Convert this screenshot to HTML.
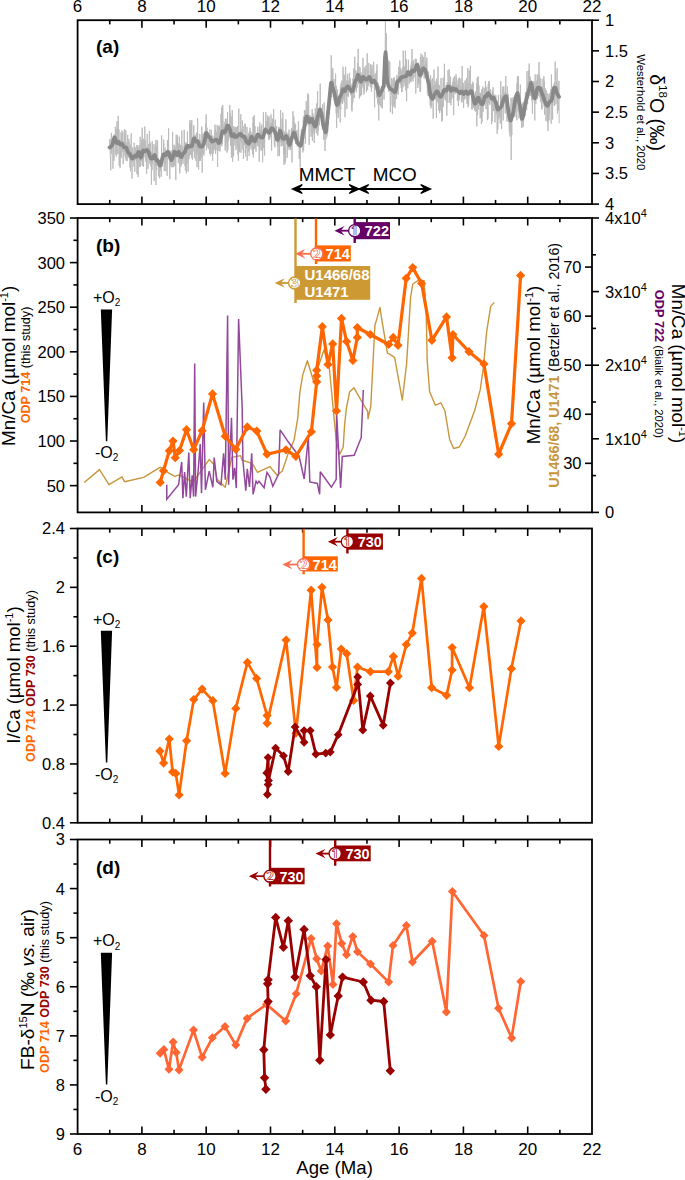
<!DOCTYPE html>
<html><head><meta charset="utf-8"><style>html,body{margin:0;padding:0;background:#fff;}svg{display:block;}</style></head>
<body><svg width="685" height="1180" viewBox="0 0 685 1180" font-family="&quot;Liberation Sans&quot;, sans-serif">
<rect width="685" height="1180" fill="#fff"/>
<polyline points="109.6,145.0 109.8,139.1 110.0,139.1 110.2,153.5 110.4,157.8 110.6,166.1 110.8,170.3 111.0,139.7 111.2,149.2 111.4,132.9 111.6,153.6 111.8,149.7 112.0,139.8 112.2,143.8 112.4,142.6 112.6,138.2 112.8,157.1 113.0,168.7 113.2,150.4 113.4,151.9 113.6,142.0 113.8,136.1 114.0,160.8 114.2,134.6 114.4,141.9 114.6,135.8 114.8,143.8 115.0,137.7 115.2,144.6 115.4,126.7 115.6,139.2 115.8,154.7 116.0,131.4 116.2,129.5 116.4,156.7 116.6,147.4 116.8,154.2 117.0,121.2 117.2,144.9 117.4,130.4 117.6,129.0 117.8,146.7 118.0,154.2 118.2,115.8 118.4,120.4 118.6,136.4 118.8,140.4 119.0,129.6 119.2,166.0 119.4,149.8 119.6,140.7 119.8,139.5 120.0,168.2 120.2,167.5 120.4,140.1 120.6,148.3 120.8,157.3 121.0,132.6 121.2,138.4 121.4,157.6 121.6,137.1 121.8,139.7 122.0,130.6 122.2,136.7 122.4,151.5 122.6,136.7 122.8,132.3 123.0,139.5 123.2,164.1 123.4,148.5 123.6,141.4 123.8,150.6 124.0,152.0 124.2,148.8 124.4,129.4 124.6,150.5 124.8,145.4 125.0,156.0 125.2,133.9 125.4,158.0 125.6,142.4 125.8,130.2 126.0,160.8 126.2,142.4 126.4,151.7 126.6,145.1 126.8,159.8 127.0,160.5 127.2,161.2 127.4,157.8 127.6,135.0 127.8,134.8 128.0,156.3 128.2,143.0 128.4,157.6 128.6,154.8 128.8,139.0 129.0,142.9 129.2,142.0 129.4,144.5 129.6,151.5 129.8,160.7 130.0,167.6 130.2,144.7 130.4,149.3 130.6,171.3 130.8,165.1 131.0,158.9 131.2,133.3 131.4,147.3 131.6,159.4 131.8,152.2 132.0,178.5 132.2,159.5 132.4,161.5 132.6,147.4 132.8,147.8 133.0,151.4 133.2,151.5 133.4,155.1 133.6,161.0 133.8,159.3 134.0,166.7 134.2,142.7 134.4,158.3 134.6,158.3 134.8,171.8 135.0,153.4 135.2,158.8 135.4,147.3 135.6,159.9 135.8,159.8 136.0,149.6 136.2,151.8 136.4,156.1 136.6,162.4 136.8,144.9 137.0,174.0 137.2,152.2 137.4,174.1 137.6,169.0 137.8,145.2 138.0,146.4 138.2,177.1 138.4,158.2 138.6,163.1 138.8,147.5 139.0,150.7 139.2,160.6 139.4,159.3 139.6,145.4 139.8,167.1 140.0,161.6 140.2,136.8 140.4,166.7 140.6,155.4 140.8,165.3 141.0,151.8 141.2,160.8 141.4,140.2 141.6,159.7 141.8,139.8 142.0,155.9 142.2,127.7 142.4,151.7 142.6,166.1 142.8,155.8 143.0,162.6 143.2,139.6 143.4,166.3 143.6,166.9 143.8,138.7 144.0,143.0 144.2,145.4 144.4,151.1 144.6,153.3 144.8,126.5 145.0,157.3 145.2,148.6 145.4,140.7 145.6,160.4 145.8,147.2 146.0,161.9 146.2,155.7 146.4,146.9 146.6,173.7 146.8,158.2 147.0,145.0 147.2,133.9 147.4,144.8 147.6,156.7 147.8,148.4 148.0,168.9 148.2,154.1 148.4,153.8 148.6,156.4 148.8,144.0 149.0,152.2 149.2,147.4 149.4,131.0 149.6,137.5 149.8,163.5 150.0,152.2 150.2,156.0 150.4,142.8 150.6,152.1 150.8,166.2 151.0,159.4 151.2,153.3 151.4,184.7 151.6,158.0 151.8,151.5 152.0,170.2 152.2,141.1 152.4,164.1 152.6,147.2 152.8,150.3 153.0,144.1 153.2,158.8 153.4,158.1 153.6,159.5 153.8,158.0 154.0,169.5 154.2,181.1 154.4,161.9 154.6,162.4 154.8,151.2 155.0,144.4 155.2,162.0 155.4,157.1 155.6,166.2 155.8,139.9 156.0,185.0 156.2,146.7 156.4,160.3 156.6,170.2 156.8,146.6 157.0,155.1 157.2,140.2 157.4,146.0 157.6,140.9 157.8,161.6 158.0,163.8 158.2,158.0 158.4,174.5 158.6,176.3 158.8,162.9 159.0,161.4 159.2,161.5 159.4,160.2 159.6,178.3 159.8,167.8 160.0,162.1 160.2,163.1 160.4,170.7 160.6,160.8 160.8,167.5 161.0,163.4 161.2,176.7 161.4,174.0 161.6,135.4 161.8,159.0 162.0,166.9 162.2,154.3 162.4,166.1 162.6,160.5 162.8,162.4 163.0,155.1 163.2,158.2 163.4,160.0 163.6,139.6 163.8,144.9 164.0,143.9 164.2,171.1 164.4,157.4 164.6,158.3 164.8,156.5 165.0,149.8 165.2,147.7 165.4,163.8 165.6,151.5 165.8,171.1 166.0,156.9 166.2,155.6 166.4,152.1 166.6,153.1 166.8,153.7 167.0,168.1 167.2,175.8 167.4,140.1 167.6,154.2 167.8,158.8 168.0,142.7 168.2,145.5 168.4,147.4 168.6,128.2 168.8,159.3 169.0,152.8 169.2,153.0 169.4,155.4 169.6,157.8 169.8,179.2 170.0,158.4 170.2,165.5 170.4,152.4 170.6,161.7 170.8,155.4 171.0,157.5 171.2,150.5 171.4,151.9 171.6,164.8 171.8,167.3 172.0,164.0 172.2,152.3 172.4,161.7 172.6,131.9 172.8,167.0 173.0,156.5 173.2,158.9 173.4,167.2 173.6,150.6 173.8,163.7 174.0,144.7 174.2,158.1 174.4,147.9 174.6,154.4 174.8,166.3 175.0,145.6 175.2,146.5 175.4,149.9 175.6,156.8 175.8,180.1 176.0,149.0 176.2,134.7 176.4,148.9 176.6,139.6 176.8,149.8 177.0,155.3 177.2,145.2 177.4,147.5 177.6,135.0 177.8,157.1 178.0,145.2 178.2,163.2 178.4,162.6 178.6,143.3 178.8,148.4 179.0,153.0 179.2,160.5 179.4,136.7 179.6,153.3 179.8,173.4 180.0,154.4 180.2,158.1 180.4,156.4 180.6,144.8 180.8,166.6 181.0,160.0 181.2,159.0 181.4,164.7 181.6,165.2 181.8,130.6 182.0,161.2 182.2,150.0 182.4,156.9 182.6,147.7 182.8,145.8 183.0,163.8 183.2,154.0 183.4,151.1 183.6,150.9 183.8,154.5 184.0,153.4 184.2,129.7 184.4,144.4 184.6,150.5 184.8,160.0 185.0,165.8 185.2,142.3 185.4,170.5 185.6,151.3 185.8,154.6 186.0,143.8 186.2,142.5 186.4,173.4 186.6,145.4 186.8,146.1 187.0,158.5 187.2,163.9 187.4,131.5 187.6,144.6 187.8,146.5 188.0,164.9 188.2,171.7 188.4,146.7 188.6,151.2 188.8,156.3 189.0,159.2 189.2,144.5 189.4,156.2 189.6,140.4 189.8,120.4 190.0,133.3 190.2,149.1 190.4,154.8 190.6,124.3 190.8,129.0 191.0,146.9 191.2,120.3 191.4,153.0 191.6,157.8 191.8,120.1 192.0,154.6 192.2,143.6 192.4,159.8 192.6,147.6 192.8,141.4 193.0,144.0 193.2,151.3 193.4,142.9 193.6,140.7 193.8,125.3 194.0,144.2 194.2,139.8 194.4,158.2 194.6,140.1 194.8,139.9 195.0,135.0 195.2,149.1 195.4,140.2 195.6,135.6 195.8,159.0 196.0,160.9 196.2,138.5 196.4,132.7 196.6,154.2 196.8,134.3 197.0,167.2 197.2,141.2 197.4,152.3 197.6,118.2 197.8,142.7 198.0,154.4 198.2,148.3 198.4,139.0 198.6,169.5 198.8,153.0 199.0,143.9 199.2,140.6 199.4,143.2 199.6,161.1 199.8,133.9 200.0,148.4 200.2,140.0 200.4,160.9 200.6,146.6 200.8,156.9 201.0,153.9 201.2,142.3 201.4,155.1 201.6,157.5 201.8,126.6 202.0,155.3 202.2,172.8 202.4,144.9 202.6,153.9 202.8,133.7 203.0,151.4 203.2,140.5 203.4,153.8 203.6,145.1 203.8,133.3 204.0,155.6 204.2,141.7 204.4,132.8 204.6,142.8 204.8,131.5 205.0,144.2 205.2,138.5 205.4,134.3 205.6,143.8 205.8,123.2 206.0,145.0 206.2,114.3 206.4,150.4 206.6,136.3 206.8,132.1 207.0,127.7 207.2,141.1 207.4,134.5 207.6,134.8 207.8,147.5 208.0,133.2 208.2,135.5 208.4,148.4 208.6,149.2 208.8,136.9 209.0,140.1 209.2,139.0 209.4,146.1 209.6,153.7 209.8,129.4 210.0,137.8 210.2,139.0 210.4,145.9 210.6,155.6 210.8,140.8 211.0,143.7 211.2,153.5 211.4,129.9 211.6,135.0 211.8,138.5 212.0,143.1 212.2,145.4 212.4,137.8 212.6,160.6 212.8,135.6 213.0,140.6 213.2,153.6 213.4,150.3 213.6,142.3 213.8,146.1 214.0,150.5 214.2,141.9 214.4,148.5 214.6,132.4 214.8,142.2 215.0,124.7 215.2,132.2 215.4,129.5 215.6,153.7 215.8,136.3 216.0,144.1 216.2,131.7 216.4,139.2 216.6,138.5 216.8,132.8 217.0,150.3 217.2,124.9 217.4,148.4 217.6,167.0 217.8,134.3 218.0,143.4 218.2,127.7 218.4,143.7 218.6,126.6 218.8,150.7 219.0,139.3 219.2,125.5 219.4,130.9 219.6,127.7 219.8,140.5 220.0,151.5 220.2,138.1 220.4,129.4 220.6,132.0 220.8,140.7 221.0,113.7 221.2,143.4 221.4,140.5 221.6,108.5 221.8,146.3 222.0,106.6 222.2,130.3 222.4,144.0 222.6,115.0 222.8,105.0 223.0,120.2 223.2,120.8 223.4,129.8 223.6,127.1 223.8,127.7 224.0,128.0 224.2,131.1 224.4,124.2 224.6,136.1 224.8,132.5 225.0,121.9 225.2,150.5 225.4,118.6 225.6,146.6 225.8,123.1 226.0,133.9 226.2,135.0 226.4,137.8 226.6,142.8 226.8,119.1 227.0,152.6 227.2,130.7 227.4,117.9 227.6,112.2 227.8,150.0 228.0,143.1 228.2,126.5 228.4,134.8 228.6,141.0 228.8,130.7 229.0,124.1 229.2,128.4 229.4,137.6 229.6,130.4 229.8,105.0 230.0,138.0 230.2,113.6 230.4,124.4 230.6,145.6 230.8,136.2 231.0,136.9 231.2,136.3 231.4,157.7 231.6,135.7 231.8,116.6 232.0,139.2 232.2,110.0 232.4,115.6 232.6,161.6 232.8,146.6 233.0,126.9 233.2,134.6 233.4,136.0 233.6,156.2 233.8,127.1 234.0,126.2 234.2,129.2 234.4,137.5 234.6,139.4 234.8,133.3 235.0,145.5 235.2,127.2 235.4,136.9 235.6,130.5 235.8,127.3 236.0,150.1 236.2,134.2 236.4,127.2 236.6,137.8 236.8,127.1 237.0,143.3 237.2,145.8 237.4,147.5 237.6,125.9 237.8,135.0 238.0,155.0 238.2,133.5 238.4,160.9 238.6,151.2 238.8,108.7 239.0,147.6 239.2,142.8 239.4,144.0 239.6,152.2 239.8,139.5 240.0,135.5 240.2,140.9 240.4,131.2 240.6,139.8 240.8,114.2 241.0,152.7 241.2,129.8 241.4,141.1 241.6,143.1 241.8,137.4 242.0,137.8 242.2,137.6 242.4,120.3 242.6,131.6 242.8,149.5 243.0,126.8 243.2,126.4 243.4,158.7 243.6,149.4 243.8,153.0 244.0,136.9 244.2,139.8 244.4,145.1 244.6,143.3 244.8,137.1 245.0,123.6 245.2,131.6 245.4,124.4 245.6,156.5 245.8,136.9 246.0,139.7 246.2,148.4 246.4,142.5 246.6,147.8 246.8,136.1 247.0,127.0 247.2,160.6 247.4,135.6 247.6,138.2 247.8,135.2 248.0,137.9 248.2,143.9 248.4,151.5 248.6,133.3 248.8,147.1 249.0,137.2 249.2,156.1 249.4,131.0 249.6,144.0 249.8,149.6 250.0,127.8 250.2,141.9 250.4,141.4 250.6,130.9 250.8,136.1 251.0,147.8 251.2,139.7 251.4,132.8 251.6,134.8 251.8,141.5 252.0,150.1 252.2,145.6 252.4,145.4 252.6,154.3 252.8,123.4 253.0,125.0 253.2,117.0 253.4,157.5 253.6,117.6 253.8,140.6 254.0,148.9 254.2,115.2 254.4,134.8 254.6,138.9 254.8,148.8 255.0,126.0 255.2,144.3 255.4,147.7 255.6,141.7 255.8,141.3 256.0,151.7 256.2,140.7 256.4,137.6 256.6,133.8 256.8,143.1 257.0,133.0 257.2,142.0 257.4,136.0 257.6,146.1 257.8,126.6 258.0,135.3 258.2,138.1 258.4,138.9 258.6,146.4 258.8,139.2 259.0,144.6 259.2,161.8 259.4,144.6 259.6,125.7 259.8,122.2 260.0,143.5 260.2,129.4 260.4,140.0 260.6,133.7 260.8,150.4 261.0,149.4 261.2,126.1 261.4,140.2 261.6,134.5 261.8,124.5 262.0,150.6 262.2,136.2 262.4,142.0 262.6,162.3 262.8,150.6 263.0,148.0 263.2,132.4 263.4,112.3 263.6,147.8 263.8,131.6 264.0,134.3 264.2,129.2 264.4,133.2 264.6,155.5 264.8,127.5 265.0,127.3 265.2,131.8 265.4,132.4 265.6,117.6 265.8,112.0 266.0,124.2 266.2,128.3 266.4,122.9 266.6,121.1 266.8,121.9 267.0,127.5 267.2,130.3 267.4,115.2 267.6,126.1 267.8,135.1 268.0,130.4 268.2,118.1 268.4,128.3 268.6,131.8 268.8,139.9 269.0,116.2 269.2,139.4 269.4,127.9 269.6,136.2 269.8,138.9 270.0,123.0 270.2,123.0 270.4,129.3 270.6,137.0 270.8,123.7 271.0,114.5 271.2,121.3 271.4,131.8 271.6,150.7 271.8,122.8 272.0,124.7 272.2,126.2 272.4,126.7 272.6,118.7 272.8,123.8 273.0,130.5 273.2,129.8 273.4,129.4 273.6,109.1 273.8,118.6 274.0,123.2 274.2,141.2 274.4,145.5 274.6,134.7 274.8,147.4 275.0,128.9 275.2,129.3 275.4,119.7 275.6,135.4 275.8,129.3 276.0,135.6 276.2,140.4 276.4,134.1 276.6,126.3 276.8,137.9 277.0,138.3 277.2,139.8 277.4,146.5 277.6,137.6 277.8,136.9 278.0,156.3 278.2,149.0 278.4,136.6 278.6,127.2 278.8,131.0 279.0,138.0 279.2,141.5 279.4,156.0 279.6,129.0 279.8,132.3 280.0,127.0 280.2,131.3 280.4,127.0 280.6,110.0 280.8,142.2 281.0,134.2 281.2,146.6 281.4,129.9 281.6,138.4 281.8,143.1 282.0,118.6 282.2,124.7 282.4,145.6 282.6,139.4 282.8,112.6 283.0,124.1 283.2,128.4 283.4,134.1 283.6,154.2 283.8,133.3 284.0,164.9 284.2,136.4 284.4,131.5 284.6,154.0 284.8,147.6 285.0,163.7 285.2,156.6 285.4,147.5 285.6,161.0 285.8,119.4 286.0,128.1 286.2,140.6 286.4,138.4 286.6,143.7 286.8,132.2 287.0,148.4 287.2,157.8 287.4,150.4 287.6,147.4 287.8,144.8 288.0,149.7 288.2,143.5 288.4,132.8 288.6,145.1 288.8,145.1 289.0,129.6 289.2,147.5 289.4,145.7 289.6,147.5 289.8,139.7 290.0,149.4 290.2,150.1 290.4,136.2 290.6,145.6 290.8,149.3 291.0,148.2 291.2,131.0 291.4,129.4 291.6,139.1 291.8,127.9 292.0,162.4 292.2,129.0 292.4,128.5 292.6,142.1 292.8,130.4 293.0,111.2 293.2,132.3 293.4,123.5 293.6,122.5 293.8,116.6 294.0,123.5 294.2,130.9 294.4,132.0 294.6,122.2 294.8,126.7 295.0,126.0 295.2,136.5 295.4,134.5 295.6,124.3 295.8,143.8 296.0,131.2 296.2,142.6 296.4,130.3 296.6,142.9 296.8,139.3 297.0,141.6 297.2,146.5 297.4,146.3 297.6,144.0 297.8,144.3 298.0,130.4 298.2,142.5 298.4,121.7 298.6,121.3 298.8,140.5 299.0,141.6 299.2,158.8 299.4,150.9 299.6,155.5 299.8,141.8 300.0,149.4 300.2,167.6 300.4,150.4 300.6,148.5 300.8,145.7 301.0,135.2 301.2,134.9 301.4,128.9 301.6,145.9 301.8,134.6 302.0,132.1 302.2,140.7 302.4,130.2 302.6,145.0 302.8,152.4 303.0,137.2 303.2,125.1 303.4,116.4 303.6,150.4 303.8,134.2 304.0,117.3 304.2,138.5 304.4,110.3 304.6,116.6 304.8,121.9 305.0,119.3 305.2,110.1 305.4,143.6 305.6,114.6 305.8,121.7 306.0,117.8 306.2,101.2 306.4,105.6 306.6,120.3 306.8,125.5 307.0,112.9 307.2,123.6 307.4,113.5 307.6,123.1 307.8,93.4 308.0,124.5 308.2,113.1 308.4,114.2 308.6,94.8 308.8,110.7 309.0,127.8 309.2,144.9 309.4,115.2 309.6,115.6 309.8,126.9 310.0,124.6 310.2,115.6 310.4,119.3 310.6,116.7 310.8,126.2 311.0,135.3 311.2,136.7 311.4,128.0 311.6,131.8 311.8,120.1 312.0,128.0 312.2,109.2 312.4,140.8 312.6,122.7 312.8,134.6 313.0,113.3 313.2,132.2 313.4,126.7 313.6,121.6 313.8,117.4 314.0,115.9 314.2,143.0 314.4,137.7 314.6,127.0 314.8,130.0 315.0,119.1 315.2,108.2 315.4,108.7 315.6,120.4 315.8,124.8 316.0,113.6 316.2,132.1 316.4,133.3 316.6,123.5 316.8,103.3 317.0,117.6 317.2,118.5 317.4,105.4 317.6,91.2 317.8,135.6 318.0,122.0 318.2,111.3 318.4,130.4 318.6,124.8 318.8,117.5 319.0,114.5 319.2,119.2 319.4,125.2 319.6,110.5 319.8,106.7 320.0,114.8 320.2,83.6 320.4,111.1 320.6,106.9 320.8,111.5 321.0,110.6 321.2,116.6 321.4,115.2 321.6,115.8 321.8,114.8 322.0,121.9 322.2,113.5 322.4,129.7 322.6,104.4 322.8,126.6 323.0,128.3 323.2,112.2 323.4,121.6 323.6,139.9 323.8,126.0 324.0,119.1 324.2,102.4 324.4,132.2 324.6,130.4 324.8,136.0 325.0,151.0 325.2,131.1 325.4,133.1 325.6,125.5 325.8,132.3 326.0,133.1 326.2,138.9 326.4,134.7 326.6,119.3 326.8,115.3 327.0,136.4 327.2,110.9 327.4,126.0 327.6,132.8 327.8,121.2 328.0,115.4 328.2,124.6 328.4,112.7 328.6,107.1 328.8,103.2 329.0,114.7 329.2,108.1 329.4,114.5 329.6,93.6 329.8,88.6 330.0,84.1 330.2,93.5 330.4,81.8 330.6,96.0 330.8,88.2 331.0,73.2 331.2,55.3 331.4,56.0 331.6,97.2 331.8,83.0 332.0,86.0 332.2,76.9 332.4,90.3 332.6,68.0 332.8,68.1 333.0,72.5 333.2,90.2 333.4,97.2 333.6,95.5 333.8,90.0 334.0,79.0 334.2,100.3 334.4,90.1 334.6,93.5 334.8,93.9 335.0,91.0 335.2,89.7 335.4,92.3 335.6,73.7 335.8,103.4 336.0,100.4 336.2,113.4 336.4,85.9 336.6,128.0 336.8,104.2 337.0,103.3 337.2,96.8 337.4,96.5 337.6,89.5 337.8,113.1 338.0,101.7 338.2,117.9 338.4,111.1 338.6,96.6 338.8,98.1 339.0,96.1 339.2,108.9 339.4,99.2 339.6,99.0 339.8,104.1 340.0,95.8 340.2,122.3 340.4,86.8 340.6,108.3 340.8,109.5 341.0,83.6 341.2,103.1 341.4,99.5 341.6,102.0 341.8,80.5 342.0,94.3 342.2,81.3 342.4,87.2 342.6,104.1 342.8,86.8 343.0,66.7 343.2,75.1 343.4,77.8 343.6,99.5 343.8,75.8 344.0,74.6 344.2,101.8 344.4,93.5 344.6,94.7 344.8,75.4 345.0,117.2 345.2,89.5 345.4,70.3 345.6,66.7 345.8,72.4 346.0,87.2 346.2,95.9 346.4,80.5 346.6,81.3 346.8,109.0 347.0,87.6 347.2,81.3 347.4,86.8 347.6,74.0 347.8,91.9 348.0,96.3 348.2,80.8 348.4,96.8 348.6,84.0 348.8,90.0 349.0,79.9 349.2,79.7 349.4,73.1 349.6,90.6 349.8,86.0 350.0,86.7 350.2,78.3 350.4,78.3 350.6,83.9 350.8,95.2 351.0,93.8 351.2,84.3 351.4,94.5 351.6,109.7 351.8,92.7 352.0,111.5 352.2,95.4 352.4,104.2 352.6,85.4 352.8,102.3 353.0,78.4 353.2,92.3 353.4,82.6 353.6,68.6 353.8,74.1 354.0,98.1 354.2,90.6 354.4,97.6 354.6,85.6 354.8,56.7 355.0,84.4 355.2,75.5 355.4,75.7 355.6,76.0 355.8,72.6 356.0,70.5 356.2,92.3 356.4,84.1 356.6,72.7 356.8,74.5 357.0,87.8 357.2,81.0 357.4,78.2 357.6,63.0 357.8,70.4 358.0,63.4 358.2,48.9 358.4,83.9 358.6,72.0 358.8,71.6 359.0,66.6 359.2,84.4 359.4,98.4 359.6,84.1 359.8,88.3 360.0,67.3 360.2,82.2 360.4,83.2 360.6,96.3 360.8,81.8 361.0,72.3 361.2,80.9 361.4,76.9 361.6,95.1 361.8,86.7 362.0,82.7 362.2,82.0 362.4,86.2 362.6,72.3 362.8,67.6 363.0,57.8 363.2,88.4 363.4,81.8 363.6,83.4 363.8,77.8 364.0,94.4 364.2,68.4 364.4,90.6 364.6,70.4 364.8,74.6 365.0,67.0 365.2,80.0 365.4,76.1 365.6,83.3 365.8,73.2 366.0,65.2 366.2,84.9 366.4,92.2 366.6,86.7 366.8,78.8 367.0,83.3 367.2,53.3 367.4,75.6 367.6,90.2 367.8,82.9 368.0,69.4 368.2,86.1 368.4,76.1 368.6,84.5 368.8,62.9 369.0,71.6 369.2,80.0 369.4,82.6 369.6,82.4 369.8,76.7 370.0,75.5 370.2,82.7 370.4,87.2 370.6,64.1 370.8,76.7 371.0,78.5 371.2,82.7 371.4,91.7 371.6,68.6 371.8,87.4 372.0,64.8 372.2,74.5 372.4,76.6 372.6,78.8 372.8,75.0 373.0,75.7 373.2,77.1 373.4,77.5 373.6,61.7 373.8,66.1 374.0,75.8 374.2,85.5 374.4,100.4 374.6,107.4 374.8,82.7 375.0,74.3 375.2,85.9 375.4,89.7 375.6,84.7 375.8,73.0 376.0,81.7 376.2,83.8 376.4,70.7 376.6,73.2 376.8,97.8 377.0,64.4 377.2,89.2 377.4,85.8 377.6,103.2 377.8,96.5 378.0,82.7 378.2,104.7 378.4,87.4 378.6,113.4 378.8,120.4 379.0,93.9 379.2,102.9 379.4,97.5 379.6,86.0 379.8,104.9 380.0,98.0 380.2,101.7 380.4,103.4 380.6,106.4 380.8,102.4 381.0,90.9 381.2,92.4 381.4,95.4 381.6,89.7 381.8,88.2 382.0,108.5 382.2,94.3 382.4,107.5 382.6,80.5 382.8,87.2 383.0,78.4 383.2,82.8 383.4,83.6 383.6,85.1 383.8,82.0 384.0,99.5 384.2,83.7 384.4,65.0 384.6,62.2 384.8,70.0 385.0,62.8 385.2,49.3 385.4,21.5 385.6,38.0 385.8,48.3 386.0,70.8 386.2,33.0 386.4,62.1 386.6,79.4 386.8,73.9 387.0,73.5 387.2,63.8 387.4,61.1 387.6,69.1 387.8,83.7 388.0,78.2 388.2,84.5 388.4,83.9 388.6,91.6 388.8,60.4 389.0,83.8 389.2,83.8 389.4,84.3 389.6,78.9 389.8,62.0 390.0,94.5 390.2,96.6 390.4,112.2 390.6,96.3 390.8,105.5 391.0,95.3 391.2,85.8 391.4,94.5 391.6,78.0 391.8,94.4 392.0,88.6 392.2,79.3 392.4,114.2 392.6,101.5 392.8,95.2 393.0,98.5 393.2,106.8 393.4,89.4 393.6,77.6 393.8,81.9 394.0,98.5 394.2,94.2 394.4,77.5 394.6,105.4 394.8,94.5 395.0,108.2 395.2,103.1 395.4,87.2 395.6,91.8 395.8,82.7 396.0,80.7 396.2,84.9 396.4,91.6 396.6,99.0 396.8,75.3 397.0,90.3 397.2,83.0 397.4,79.8 397.6,92.8 397.8,77.8 398.0,94.8 398.2,77.7 398.4,71.9 398.6,88.6 398.8,66.6 399.0,69.2 399.2,79.1 399.4,80.8 399.6,75.4 399.8,60.5 400.0,66.5 400.2,84.3 400.4,84.1 400.6,68.3 400.8,80.5 401.0,79.7 401.2,87.7 401.4,70.3 401.6,92.1 401.8,74.7 402.0,92.0 402.2,86.9 402.4,67.5 402.6,74.4 402.8,80.2 403.0,87.3 403.2,50.7 403.4,71.9 403.6,83.0 403.8,81.5 404.0,66.3 404.2,67.8 404.4,81.0 404.6,66.6 404.8,79.1 405.0,85.9 405.2,76.9 405.4,50.5 405.6,88.5 405.8,88.2 406.0,90.7 406.2,85.0 406.4,59.3 406.6,101.3 406.8,78.5 407.0,83.8 407.2,72.3 407.4,70.8 407.6,70.4 407.8,88.3 408.0,75.0 408.2,70.3 408.4,59.7 408.6,77.5 408.8,73.4 409.0,75.3 409.2,83.9 409.4,81.6 409.6,74.7 409.8,79.5 410.0,75.9 410.2,82.1 410.4,81.7 410.6,75.9 410.8,65.5 411.0,81.9 411.2,81.9 411.4,61.6 411.6,75.5 411.8,67.3 412.0,49.0 412.2,70.1 412.4,80.0 412.6,63.3 412.8,63.8 413.0,81.3 413.2,60.4 413.4,62.2 413.6,68.5 413.8,77.9 414.0,77.8 414.2,65.8 414.4,68.1 414.6,71.9 414.8,66.9 415.0,61.7 415.2,58.8 415.4,76.2 415.6,66.2 415.8,93.5 416.0,73.3 416.2,58.9 416.4,65.9 416.6,68.8 416.8,69.0 417.0,69.4 417.2,69.4 417.4,63.8 417.6,72.0 417.8,87.9 418.0,62.5 418.2,64.0 418.4,75.9 418.6,82.4 418.8,79.3 419.0,84.4 419.2,72.9 419.4,72.0 419.6,81.3 419.8,81.8 420.0,92.0 420.2,91.0 420.4,57.3 420.6,91.0 420.8,68.3 421.0,53.6 421.2,77.9 421.4,71.7 421.6,69.3 421.8,59.3 422.0,61.2 422.2,68.5 422.4,55.1 422.6,68.4 422.8,70.1 423.0,67.1 423.2,71.4 423.4,67.7 423.6,56.9 423.8,58.3 424.0,70.2 424.2,78.7 424.4,70.9 424.6,64.6 424.8,71.5 425.0,51.9 425.2,60.0 425.4,66.0 425.6,70.1 425.8,68.4 426.0,69.9 426.2,61.6 426.4,68.6 426.6,77.6 426.8,57.6 427.0,64.9 427.2,74.2 427.4,93.2 427.6,86.0 427.8,95.6 428.0,94.1 428.2,77.0 428.4,81.7 428.6,71.6 428.8,96.0 429.0,92.7 429.2,92.6 429.4,94.6 429.6,94.0 429.8,94.9 430.0,94.9 430.2,105.7 430.4,87.2 430.6,75.1 430.8,96.4 431.0,108.3 431.2,99.6 431.4,95.6 431.6,106.4 431.8,99.6 432.0,79.8 432.2,88.9 432.4,78.2 432.6,96.7 432.8,94.3 433.0,102.7 433.2,118.9 433.4,85.5 433.6,96.8 433.8,92.4 434.0,69.6 434.2,87.6 434.4,87.6 434.6,97.1 434.8,85.7 435.0,80.9 435.2,99.3 435.4,92.5 435.6,83.9 435.8,85.0 436.0,86.4 436.2,100.3 436.4,117.8 436.6,78.6 436.8,103.1 437.0,92.0 437.2,98.7 437.4,101.3 437.6,82.2 437.8,100.7 438.0,66.6 438.2,88.3 438.4,84.9 438.6,110.6 438.8,110.5 439.0,102.2 439.2,100.2 439.4,85.0 439.6,113.2 439.8,110.2 440.0,105.5 440.2,95.7 440.4,93.5 440.6,96.1 440.8,110.2 441.0,78.2 441.2,97.8 441.4,112.6 441.6,104.8 441.8,121.5 442.0,99.4 442.2,99.2 442.4,120.3 442.6,100.7 442.8,97.3 443.0,88.0 443.2,77.7 443.4,106.6 443.6,87.1 443.8,83.4 444.0,99.1 444.2,81.5 444.4,63.8 444.6,84.5 444.8,89.6 445.0,93.1 445.2,95.7 445.4,100.5 445.6,89.3 445.8,94.9 446.0,90.3 446.2,85.0 446.4,95.1 446.6,94.2 446.8,115.7 447.0,95.5 447.2,82.1 447.4,94.3 447.6,85.3 447.8,103.0 448.0,70.2 448.2,80.3 448.4,80.2 448.6,88.0 448.8,85.7 449.0,71.5 449.2,69.1 449.4,89.7 449.6,102.7 449.8,103.0 450.0,81.8 450.2,94.4 450.4,81.9 450.6,76.7 450.8,103.4 451.0,105.2 451.2,85.2 451.4,87.4 451.6,99.7 451.8,93.4 452.0,86.5 452.2,92.1 452.4,88.9 452.6,84.8 452.8,81.7 453.0,98.0 453.2,84.5 453.4,77.8 453.6,115.2 453.8,102.4 454.0,95.5 454.2,89.8 454.4,92.4 454.6,76.1 454.8,90.0 455.0,92.6 455.2,87.8 455.4,93.9 455.6,82.0 455.8,91.3 456.0,74.2 456.2,89.6 456.4,84.0 456.6,77.3 456.8,86.7 457.0,91.8 457.2,85.3 457.4,100.5 457.6,84.7 457.8,100.9 458.0,99.0 458.2,80.4 458.4,106.1 458.6,78.8 458.8,97.6 459.0,93.2 459.2,100.3 459.4,77.6 459.6,81.5 459.8,85.2 460.0,93.7 460.2,94.2 460.4,93.2 460.6,90.1 460.8,85.4 461.0,78.6 461.2,87.6 461.4,102.2 461.6,101.6 461.8,86.7 462.0,102.4 462.2,66.0 462.4,100.1 462.6,82.2 462.8,95.6 463.0,84.2 463.2,84.3 463.4,83.4 463.6,108.0 463.8,87.5 464.0,100.0 464.2,95.1 464.4,96.3 464.6,96.0 464.8,98.8 465.0,80.5 465.2,92.4 465.4,95.2 465.6,85.9 465.8,95.0 466.0,81.6 466.2,98.7 466.4,78.2 466.6,86.9 466.8,100.4 467.0,103.6 467.2,87.9 467.4,87.5 467.6,103.6 467.8,68.0 468.0,107.2 468.2,106.8 468.4,83.6 468.6,105.5 468.8,97.2 469.0,97.9 469.2,70.5 469.4,88.1 469.6,90.8 469.8,88.5 470.0,88.5 470.2,89.3 470.4,65.8 470.6,89.7 470.8,84.6 471.0,90.3 471.2,86.3 471.4,91.2 471.6,94.1 471.8,109.1 472.0,84.2 472.2,109.5 472.4,91.5 472.6,86.1 472.8,81.7 473.0,105.4 473.2,83.2 473.4,107.9 473.6,103.4 473.8,95.3 474.0,95.1 474.2,107.0 474.4,104.4 474.6,110.6 474.8,103.6 475.0,98.7 475.2,109.0 475.4,91.8 475.6,111.5 475.8,103.4 476.0,91.5 476.2,92.1 476.4,98.4 476.6,83.2 476.8,126.3 477.0,109.2 477.2,77.7 477.4,97.5 477.6,114.9 477.8,101.9 478.0,87.7 478.2,76.4 478.4,81.5 478.6,109.5 478.8,101.2 479.0,85.6 479.2,105.9 479.4,96.0 479.6,93.5 479.8,95.6 480.0,96.7 480.2,118.2 480.4,92.9 480.6,98.6 480.8,116.1 481.0,118.0 481.2,93.8 481.4,124.1 481.6,114.8 481.8,89.4 482.0,122.1 482.2,89.8 482.4,111.2 482.6,93.1 482.8,86.5 483.0,112.0 483.2,107.1 483.4,101.4 483.6,103.3 483.8,99.5 484.0,97.0 484.2,88.1 484.4,103.7 484.6,97.5 484.8,94.3 485.0,90.8 485.2,93.4 485.4,81.1 485.6,93.1 485.8,86.5 486.0,109.1 486.2,87.0 486.4,91.9 486.6,96.4 486.8,103.8 487.0,100.0 487.2,95.0 487.4,120.2 487.6,93.4 487.8,96.2 488.0,118.8 488.2,84.3 488.4,103.0 488.6,98.3 488.8,81.2 489.0,88.5 489.2,103.2 489.4,80.9 489.6,93.6 489.8,104.9 490.0,93.4 490.2,98.5 490.4,89.4 490.6,90.0 490.8,90.4 491.0,93.3 491.2,103.5 491.4,98.5 491.6,124.2 491.8,104.1 492.0,101.7 492.2,121.4 492.4,97.9 492.6,90.7 492.8,99.9 493.0,87.2 493.2,102.8 493.4,111.1 493.6,103.9 493.8,93.7 494.0,96.7 494.2,103.5 494.4,111.0 494.6,95.9 494.8,96.3 495.0,122.5 495.2,103.5 495.4,105.2 495.6,106.9 495.8,94.9 496.0,101.6 496.2,114.3 496.4,102.9 496.6,103.3 496.8,109.2 497.0,114.9 497.2,134.0 497.4,100.9 497.6,112.3 497.8,129.6 498.0,110.0 498.2,113.4 498.4,95.1 498.6,119.1 498.8,117.9 499.0,117.2 499.2,107.1 499.4,116.1 499.6,107.8 499.8,116.7 500.0,108.0 500.2,123.6 500.4,94.4 500.6,104.2 500.8,81.2 501.0,105.6 501.2,114.4 501.4,103.8 501.6,129.2 501.8,95.5 502.0,101.3 502.2,94.7 502.4,98.1 502.6,97.6 502.8,86.8 503.0,91.1 503.2,120.4 503.4,97.1 503.6,108.4 503.8,86.3 504.0,97.4 504.2,103.6 504.4,96.2 504.6,92.5 504.8,95.4 505.0,97.6 505.2,113.3 505.4,108.5 505.6,83.2 505.8,75.9 506.0,94.4 506.2,96.4 506.4,104.3 506.6,109.1 506.8,93.3 507.0,121.7 507.2,105.2 507.4,86.5 507.6,115.0 507.8,109.7 508.0,111.2 508.2,94.0 508.4,108.2 508.6,114.2 508.8,112.4 509.0,122.0 509.2,128.7 509.4,132.3 509.6,130.4 509.8,117.3 510.0,136.5 510.2,122.6 510.4,129.1 510.6,118.9 510.8,107.3 511.0,97.5 511.2,160.0 511.4,111.6 511.6,117.7 511.8,135.0 512.0,101.6 512.2,98.8 512.4,118.4 512.6,118.9 512.8,109.2 513.0,108.5 513.2,96.9 513.4,110.7 513.6,102.9 513.8,113.3 514.0,117.1 514.2,100.9 514.4,109.3 514.6,105.7 514.8,116.6 515.0,116.7 515.2,107.0 515.4,106.5 515.6,106.4 515.8,93.3 516.0,96.6 516.2,99.3 516.4,107.5 516.6,107.5 516.8,120.2 517.0,83.1 517.2,93.3 517.4,76.3 517.6,87.8 517.8,77.4 518.0,106.7 518.2,111.5 518.4,76.3 518.6,102.1 518.8,107.3 519.0,118.3 519.2,110.3 519.4,104.4 519.6,103.4 519.8,111.6 520.0,109.5 520.2,102.9 520.4,84.6 520.6,120.4 520.8,104.0 521.0,109.8 521.2,121.8 521.4,114.7 521.6,128.0 521.8,107.2 522.0,127.5 522.2,106.2 522.4,103.9 522.6,107.8 522.8,118.6 523.0,109.9 523.2,102.0 523.4,126.6 523.6,104.1 523.8,111.4 524.0,116.5 524.2,105.5 524.4,112.7 524.6,114.1 524.8,105.8 525.0,116.1 525.2,98.7 525.4,93.0 525.6,104.6 525.8,92.1 526.0,108.4 526.2,99.1 526.4,94.7 526.6,110.1 526.8,103.2 527.0,71.0 527.2,93.1 527.4,96.8 527.6,104.3 527.8,88.3 528.0,81.5 528.2,94.7 528.4,98.3 528.6,70.4 528.8,75.4 529.0,84.0 529.2,63.5 529.4,82.7 529.6,96.2 529.8,76.7 530.0,87.9 530.2,76.8 530.4,88.9 530.6,90.3 530.8,95.9 531.0,84.0 531.2,94.2 531.4,88.3 531.6,80.4 531.8,100.7 532.0,81.0 532.2,89.9 532.4,113.8 532.6,99.4 532.8,83.8 533.0,96.1 533.2,88.8 533.4,93.8 533.6,81.1 533.8,98.9 534.0,81.8 534.2,101.3 534.4,101.7 534.6,106.6 534.8,120.4 535.0,81.7 535.2,74.3 535.4,87.2 535.6,90.5 535.8,103.8 536.0,90.6 536.2,87.0 536.4,80.6 536.6,84.6 536.8,85.7 537.0,88.3 537.2,74.4 537.4,87.5 537.6,99.2 537.8,91.2 538.0,75.3 538.2,95.9 538.4,95.8 538.6,90.8 538.8,75.6 539.0,62.0 539.2,88.4 539.4,77.8 539.6,74.7 539.8,97.0 540.0,97.2 540.2,94.6 540.4,101.2 540.6,98.1 540.8,78.5 541.0,102.3 541.2,92.8 541.4,96.7 541.6,108.5 541.8,97.7 542.0,109.4 542.2,95.2 542.4,90.7 542.6,87.9 542.8,94.0 543.0,79.1 543.2,95.9 543.4,96.0 543.6,92.5 543.8,76.2 544.0,77.7 544.2,106.8 544.4,81.2 544.6,114.6 544.8,94.3 545.0,105.6 545.2,88.1 545.4,96.7 545.6,101.3 545.8,109.7 546.0,121.1 546.2,114.3 546.4,90.4 546.6,105.2 546.8,103.7 547.0,92.9 547.2,111.8 547.4,122.0 547.6,101.2 547.8,116.5 548.0,131.0 548.2,94.0 548.4,122.0 548.6,120.7 548.8,106.4 549.0,120.1 549.2,105.1 549.4,113.7 549.6,108.3 549.8,92.9 550.0,104.0 550.2,99.6 550.4,96.3 550.6,89.7 550.8,93.5 551.0,89.1 551.2,123.7 551.4,74.5 551.6,100.7 551.8,93.2 552.0,86.0 552.2,104.8 552.4,88.6 552.6,119.6 552.8,90.6 553.0,99.6 553.2,90.5 553.4,97.2 553.6,99.1 553.8,84.5 554.0,88.3 554.2,105.6 554.4,82.1 554.6,105.8 554.8,83.8 555.0,82.1 555.2,61.5 555.4,79.5 555.6,71.5 555.8,84.0 556.0,104.3 556.2,90.4 556.4,85.5 556.6,81.8 556.8,85.7 557.0,78.5 557.2,68.2 557.4,113.5 557.6,96.9 557.8,85.7 558.0,102.0 558.2,110.6 558.4,89.5 558.6,95.1 558.8,83.9 559.0,80.8 559.2,123.2" fill="none" stroke="#bbbbbb" stroke-width="0.95" stroke-linejoin="miter" stroke-miterlimit="2"/>
<polyline points="109.6,147.5 110.2,147.2 110.8,146.6 111.4,146.1 112.0,145.5 112.6,144.1 113.2,141.8 113.8,139.1 114.4,137.5 115.0,137.8 115.6,139.7 116.2,142.0 116.8,143.1 117.4,142.8 118.0,141.9 118.6,141.9 119.2,143.0 119.8,144.3 120.4,144.6 121.0,144.1 121.6,143.7 122.2,144.1 122.8,145.1 123.4,146.5 124.0,147.3 124.6,147.3 125.2,147.4 125.8,147.3 126.4,147.9 127.0,149.3 127.6,151.2 128.2,152.6 128.8,153.2 129.4,153.5 130.0,154.1 130.6,155.6 131.2,157.0 131.8,158.2 132.4,158.6 133.0,158.1 133.6,157.2 134.2,156.4 134.8,155.8 135.4,155.5 136.0,156.0 136.6,156.6 137.2,155.6 137.8,153.5 138.4,151.9 139.0,152.0 139.6,153.8 140.2,156.1 140.8,157.4 141.4,156.7 142.0,154.2 142.6,151.6 143.2,150.5 143.8,150.9 144.4,151.4 145.0,151.3 145.6,150.9 146.2,150.3 146.8,150.1 147.4,150.3 148.0,151.1 148.6,152.4 149.2,154.1 149.8,156.1 150.4,157.7 151.0,158.5 151.6,158.7 152.2,158.7 152.8,158.3 153.4,157.1 154.0,155.5 154.6,154.9 155.2,156.1 155.8,158.3 156.4,160.0 157.0,160.8 157.6,160.5 158.2,161.3 158.8,163.0 159.4,164.8 160.0,165.5 160.6,164.8 161.2,163.1 161.8,160.6 162.4,158.0 163.0,155.7 163.6,154.3 164.2,154.1 164.8,154.8 165.4,155.3 166.0,154.9 166.6,153.8 167.2,152.2 167.8,151.6 168.4,152.0 169.0,153.2 169.6,155.2 170.2,157.1 170.8,158.5 171.4,160.0 172.0,159.3 172.6,157.9 173.2,156.1 173.8,153.9 174.4,151.8 175.0,152.0 175.6,153.6 176.2,154.9 176.8,155.2 177.4,154.0 178.0,152.4 178.6,151.7 179.2,152.6 179.8,154.3 180.4,156.0 181.0,156.9 181.6,157.0 182.2,155.4 182.8,154.1 183.4,153.4 184.0,153.0 184.6,152.4 185.2,151.1 185.8,149.0 186.4,147.4 187.0,146.1 187.6,145.7 188.2,146.2 188.8,146.8 189.4,146.7 190.0,146.1 190.6,146.0 191.2,146.3 191.8,146.1 192.4,144.4 193.0,141.6 193.6,139.0 194.2,138.2 194.8,139.4 195.4,140.9 196.0,141.6 196.6,141.4 197.2,141.1 197.8,141.6 198.4,142.9 199.0,144.7 199.6,146.0 200.2,146.7 200.8,146.7 201.4,146.6 202.0,146.7 202.6,146.0 203.2,144.9 203.8,143.5 204.4,141.5 205.0,138.6 205.6,135.5 206.2,132.9 206.8,133.2 207.4,134.6 208.0,136.0 208.6,136.8 209.2,137.0 209.8,137.3 210.4,138.4 211.0,140.0 211.6,141.2 212.2,141.5 212.8,141.2 213.4,141.0 214.0,140.7 214.6,140.2 215.2,139.8 215.8,139.6 216.4,139.8 217.0,140.3 217.6,141.0 218.2,142.2 218.8,143.1 219.4,143.0 220.0,141.8 220.6,139.6 221.2,136.6 221.8,133.5 222.4,131.4 223.0,131.1 223.6,132.0 224.2,132.6 224.8,132.2 225.4,131.2 226.0,129.8 226.6,127.9 227.2,126.0 227.8,125.5 228.4,126.4 229.0,127.7 229.6,128.5 230.2,130.4 230.8,133.0 231.4,135.0 232.0,136.0 232.6,135.6 233.2,134.6 233.8,134.3 234.4,135.4 235.0,137.0 235.6,136.9 236.2,136.8 236.8,136.6 237.4,136.3 238.0,135.4 238.6,134.8 239.2,134.4 239.8,134.1 240.4,133.9 241.0,134.2 241.6,135.2 242.2,136.2 242.8,136.5 243.4,136.4 244.0,136.3 244.6,136.9 245.2,138.4 245.8,140.3 246.4,141.7 247.0,142.0 247.6,142.5 248.2,143.3 248.8,143.7 249.4,143.1 250.0,141.2 250.6,138.7 251.2,136.9 251.8,136.7 252.4,137.7 253.0,139.3 253.6,140.6 254.2,141.2 254.8,141.3 255.4,140.6 256.0,139.0 256.6,137.1 257.2,135.4 257.8,134.5 258.4,134.7 259.0,135.5 259.6,136.3 260.2,136.9 260.8,137.2 261.4,137.5 262.0,137.6 262.6,137.5 263.2,136.4 263.8,134.6 264.4,132.1 265.0,130.1 265.6,129.6 266.2,130.5 266.8,131.4 267.4,131.7 268.0,131.8 268.6,132.3 269.2,132.8 269.8,132.4 270.4,130.7 271.0,128.9 271.6,128.2 272.2,128.4 272.8,128.6 273.4,129.6 274.0,130.8 274.6,131.7 275.2,132.6 275.8,134.3 276.4,136.9 277.0,139.4 277.6,140.1 278.2,138.7 278.8,135.7 279.4,132.4 280.0,130.7 280.6,131.5 281.2,134.0 281.8,136.6 282.4,138.2 283.0,138.7 283.6,138.9 284.2,138.9 284.8,138.1 285.4,136.8 286.0,136.0 286.6,136.3 287.2,137.6 287.8,139.4 288.4,141.9 289.0,144.2 289.6,144.9 290.2,143.5 290.8,141.1 291.4,139.1 292.0,137.3 292.6,135.5 293.2,133.7 293.8,132.6 294.4,133.0 295.0,134.7 295.6,137.1 296.2,139.2 296.8,141.0 297.4,142.6 298.0,143.5 298.6,144.0 299.2,144.6 299.8,145.4 300.4,145.7 301.0,144.7 301.6,142.3 302.2,137.6 302.8,133.9 303.4,131.5 304.0,129.1 304.6,125.8 305.2,121.6 305.8,118.1 306.4,116.8 307.0,116.5 307.6,117.5 308.2,119.4 308.8,121.4 309.4,122.3 310.0,121.9 310.6,120.6 311.2,119.3 311.8,118.7 312.4,119.5 313.0,121.3 313.6,123.5 314.2,125.2 314.8,126.2 315.4,126.5 316.0,125.3 316.6,121.9 317.2,118.8 317.8,116.5 318.4,114.5 319.0,112.2 319.6,109.8 320.2,109.6 320.8,111.7 321.4,114.1 322.0,117.3 322.6,121.3 323.2,124.9 323.8,127.3 324.4,128.8 325.0,130.5 325.6,132.4 326.2,131.3 326.8,124.8 327.4,118.5 328.0,112.8 328.6,107.2 329.2,101.2 329.8,94.9 330.4,88.7 331.0,83.0 331.6,82.8 332.2,85.4 332.8,88.1 333.4,90.2 334.0,91.8 334.6,93.8 335.2,97.0 335.8,101.0 336.4,104.0 337.0,105.0 337.6,104.5 338.2,103.6 338.8,100.5 339.4,98.0 340.0,96.6 340.6,95.8 341.2,94.5 341.8,92.6 342.4,90.5 343.0,89.2 343.6,89.4 344.2,90.6 344.8,91.3 345.4,90.0 346.0,88.8 346.6,87.3 347.2,86.6 347.8,86.5 348.4,86.8 349.0,87.4 349.6,88.5 350.2,89.6 350.8,90.5 351.4,91.6 352.0,91.3 352.6,90.7 353.2,89.8 353.8,87.7 354.4,84.6 355.0,81.9 355.6,80.5 356.2,79.9 356.8,78.8 357.4,76.3 358.0,74.8 358.6,75.4 359.2,76.9 359.8,79.1 360.4,81.1 361.0,81.8 361.6,80.8 362.2,78.6 362.8,76.9 363.4,76.8 364.0,77.9 364.6,79.0 365.2,79.2 365.8,79.2 366.4,79.5 367.0,79.5 367.6,78.8 368.2,77.8 368.8,77.2 369.4,77.0 370.0,77.7 370.6,79.5 371.2,81.3 371.8,82.3 372.4,82.0 373.0,81.0 373.6,80.3 374.2,80.5 374.8,81.9 375.4,83.2 376.0,84.1 376.6,85.4 377.2,87.7 377.8,90.6 378.4,93.1 379.0,94.9 379.6,95.2 380.2,93.4 380.8,92.2 381.4,91.4 382.0,90.1 382.6,88.2 383.2,86.8 383.8,86.4 384.4,72.4 385.0,57.4 385.6,52.2 386.2,58.9 386.8,75.3 387.4,81.8 388.0,83.9 388.6,85.9 389.2,87.2 389.8,88.0 390.4,88.8 391.0,89.4 391.6,89.6 392.2,89.8 392.8,90.6 393.4,90.7 394.0,91.6 394.6,92.3 395.2,91.9 395.8,89.9 396.4,86.6 397.0,83.2 397.6,81.4 398.2,80.8 398.8,80.8 399.4,80.5 400.0,79.4 400.6,78.0 401.2,77.3 401.8,77.4 402.4,77.3 403.0,76.8 403.6,76.5 404.2,76.4 404.8,76.4 405.4,76.5 406.0,76.3 406.6,75.3 407.2,73.5 407.8,72.1 408.4,72.1 409.0,73.4 409.6,74.3 410.2,74.6 410.8,73.7 411.4,71.9 412.0,70.4 412.6,70.3 413.2,71.1 413.8,71.4 414.4,70.9 415.0,70.0 415.6,68.2 416.2,66.2 416.8,64.9 417.4,64.9 418.0,66.7 418.6,69.7 419.2,73.2 419.8,74.9 420.4,75.2 421.0,74.3 421.6,72.6 422.2,70.5 422.8,68.9 423.4,68.3 424.0,68.7 424.6,69.5 425.2,69.8 425.8,71.6 426.4,74.3 427.0,76.8 427.6,79.2 428.2,81.5 428.8,84.3 429.4,88.0 430.0,92.2 430.6,95.9 431.2,97.2 431.8,98.4 432.4,99.0 433.0,98.3 433.6,96.7 434.2,95.1 434.8,94.0 435.4,93.1 436.0,92.3 436.6,91.6 437.2,91.4 437.8,92.1 438.4,93.3 439.0,94.5 439.6,95.8 440.2,96.7 440.8,96.8 441.4,96.2 442.0,95.1 442.6,93.9 443.2,92.1 443.8,90.5 444.4,89.8 445.0,90.0 445.6,90.7 446.2,90.8 446.8,89.7 447.4,87.9 448.0,86.5 448.6,86.3 449.2,87.0 449.8,88.1 450.4,90.0 451.0,90.8 451.6,90.1 452.2,88.8 452.8,88.2 453.4,88.9 454.0,89.8 454.6,89.8 455.2,89.2 455.8,89.0 456.4,89.6 457.0,90.5 457.6,91.2 458.2,91.5 458.8,92.0 459.4,92.6 460.0,93.2 460.6,92.4 461.2,91.6 461.8,91.5 462.4,92.3 463.0,93.4 463.6,94.0 464.2,93.5 464.8,92.5 465.4,91.7 466.0,91.4 466.6,92.1 467.2,93.3 467.8,94.0 468.4,93.9 469.0,93.3 469.6,92.6 470.2,92.0 470.8,91.3 471.4,91.1 472.0,92.2 472.6,94.8 473.2,98.0 473.8,100.8 474.4,102.8 475.0,103.7 475.6,103.2 476.2,102.0 476.8,100.3 477.4,98.6 478.0,97.7 478.6,97.8 479.2,99.0 479.8,100.7 480.4,102.2 481.0,103.2 481.6,103.9 482.2,104.4 482.8,104.1 483.4,102.2 484.0,99.6 484.6,97.3 485.2,96.2 485.8,96.3 486.4,96.4 487.0,95.4 487.6,93.6 488.2,93.1 488.8,94.3 489.4,95.2 490.0,95.7 490.6,96.2 491.2,97.2 491.8,98.6 492.4,99.0 493.0,98.0 493.6,97.5 494.2,98.7 494.8,100.4 495.4,101.7 496.0,103.1 496.6,105.3 497.2,108.0 497.8,109.6 498.4,109.5 499.0,109.0 499.6,108.4 500.2,107.8 500.8,107.2 501.4,106.3 502.0,104.6 502.6,102.2 503.2,100.2 503.8,98.9 504.4,97.9 505.0,96.9 505.6,96.3 506.2,96.4 506.8,99.8 507.4,104.0 508.0,108.3 508.6,112.6 509.2,116.2 509.8,118.7 510.4,120.6 511.0,120.0 511.6,117.7 512.2,116.3 512.8,114.5 513.4,111.5 514.0,107.7 514.6,103.9 515.2,100.4 515.8,97.5 516.4,95.2 517.0,93.9 517.6,93.1 518.2,96.4 518.8,99.9 519.4,103.1 520.0,106.5 520.6,109.9 521.2,113.8 521.8,118.3 522.4,118.8 523.0,116.6 523.6,113.6 524.2,110.2 524.8,106.8 525.4,103.5 526.0,100.8 526.6,98.6 527.2,96.2 527.8,93.7 528.4,91.5 529.0,89.8 529.6,88.0 530.2,85.6 530.8,82.9 531.4,84.4 532.0,87.0 532.6,90.7 533.2,94.3 533.8,96.7 534.4,98.0 535.0,98.2 535.6,96.1 536.2,92.9 536.8,90.1 537.4,88.3 538.0,87.7 538.6,87.8 539.2,88.0 539.8,88.1 540.4,88.2 541.0,90.9 541.6,92.8 542.2,94.1 542.8,95.4 543.4,97.2 544.0,99.1 544.6,100.9 545.2,102.5 545.8,104.0 546.4,104.9 547.0,105.6 547.6,105.8 548.2,104.6 548.8,103.4 549.4,102.2 550.0,101.4 550.6,101.2 551.2,101.0 551.8,99.3 552.4,96.5 553.0,92.9 553.6,89.7 554.2,88.0 554.8,87.7 555.4,87.9 556.0,90.4 556.6,92.1 557.2,93.6 557.8,94.9 558.4,95.9 559.0,96.8" fill="none" stroke="#888888" stroke-width="3.8" stroke-linejoin="round" stroke-linecap="round"/>
<polyline points="84.2,482.5 99.5,469.6 109.0,484.7 122.0,476.9 124.6,481.8 143.6,477.4 160.4,467.2 167.5,472.3 174.8,476.4 179.2,474.9 193.1,482.2 209.1,459.6 214.2,464.7 217.2,479.3 225.2,487.3 231.8,457.4 240.5,455.6 242.0,460.0 252.4,463.6 257.5,472.4 269.9,466.6 277.2,475.3 282.3,471.0 288.2,453.4 294.0,440.3 297.7,418.4 299.9,392.1 302.8,374.6 307.4,360.7 313.4,380.7 324.1,349.8 329.4,368.8 333.0,406.8 336.4,441.8 339.7,454.3 343.2,447.3 344.5,426.3 346.3,408.8 349.6,391.9 354.0,387.8 362.8,403.3 367.7,411.4 368.0,418.8 370.8,406.1 374.9,325.5 377.1,317.9 379.9,307.4 381.5,317.9 387.4,352.9 394.6,357.3 402.3,400.0 406.6,363.9 410.6,297.1 412.8,284.0 418.7,280.2 424.2,280.7 426.3,315.7 427.2,361.0 429.6,391.5 435.3,405.2 440.9,402.8 444.9,410.8 449.7,439.7 453.7,448.5 459.3,447.0 465.0,436.5 474.6,410.8 480.2,389.9 483.4,367.4 486.6,332.1 490.7,306.4 494.2,302.4" fill="none" stroke="#c8963c" stroke-width="1.4" stroke-linejoin="round"/>
<polyline points="166.8,484.7 166.8,499.2 178.6,484.7 181.7,461.9 182.9,498.3 184.6,472.0 186.3,496.6 188.8,452.5 190.2,498.3 192.2,475.4 193.6,496.6 194.7,363.6 195.6,496.6 198.1,471.2 200.2,444.1 201.5,493.2 203.7,402.5 205.4,489.8 209.2,471.2 212.9,487.3 214.2,457.6 216.8,481.4 221.0,484.7 223.6,453.4 225.3,479.7 227.6,315.4 228.6,484.7 231.5,417.8 232.9,479.7 234.6,467.8 236.3,488.1 238.6,319.1 242.2,408.5 242.9,460.7 245.8,490.7 247.3,468.8 249.5,487.0 251.7,453.4 253.1,494.3 256.1,481.2 257.5,483.4 259.0,481.2 264.1,487.7 267.0,472.4 269.9,476.8 272.8,486.3 278.7,473.9 280.1,429.8 288.2,441.8 299.1,456.4 304.2,479.0 308.3,437.4 309.8,481.9 317.4,483.4 319.6,494.3 320.3,471.7 331.4,487.2 336.2,479.3 336.6,413.1 340.6,488.0 342.3,456.5 354.2,455.2 361.2,437.7 362.9,400.0 363.3,390.0" fill="none" stroke="#93489b" stroke-width="1.5" stroke-linejoin="miter" stroke-miterlimit="3"/>
<polyline points="160.2,482.4 163.5,470.8 169.3,450.8 173.0,441.1 175.3,457.7 179.5,450.5 186.5,429.7 193.7,449.7 202.1,430.7 212.5,393.9 225.2,436.2 235.8,449.3 247.3,426.9 256.8,431.1 267.0,454.2 286.0,449.8 295.9,456.4 311.4,431.7 316.7,381.9 316.7,375.9 316.7,370.2 322.3,326.7 328.0,364.6 332.7,343.9 336.5,410.9 341.5,318.4 346.6,341.5 352.9,360.5 357.3,337.4 357.3,327.5 370.3,334.5 388.7,344.5 393.2,337.4 398.0,345.3 406.2,278.3 412.7,267.6 421.6,283.5 431.9,340.3 446.5,316.9 452.1,357.8 452.9,334.5 469.0,351.7 483.9,363.9 498.7,454.2 511.5,423.7 520.6,275.4" fill="none" stroke="#ff6600" stroke-width="3.2" stroke-linejoin="round"/>
<path d="M160.2 477.8L164.8 482.4L160.2 487.0L155.6 482.4Z" fill="#ff6600"/>
<path d="M163.5 466.2L168.1 470.8L163.5 475.4L158.9 470.8Z" fill="#ff6600"/>
<path d="M169.3 446.2L173.9 450.8L169.3 455.4L164.7 450.8Z" fill="#ff6600"/>
<path d="M173.0 436.5L177.6 441.1L173.0 445.7L168.4 441.1Z" fill="#ff6600"/>
<path d="M175.3 453.1L179.9 457.7L175.3 462.3L170.7 457.7Z" fill="#ff6600"/>
<path d="M179.5 445.9L184.1 450.5L179.5 455.1L174.9 450.5Z" fill="#ff6600"/>
<path d="M186.5 425.1L191.1 429.7L186.5 434.3L181.9 429.7Z" fill="#ff6600"/>
<path d="M193.7 445.1L198.3 449.7L193.7 454.3L189.1 449.7Z" fill="#ff6600"/>
<path d="M202.1 426.1L206.7 430.7L202.1 435.3L197.5 430.7Z" fill="#ff6600"/>
<path d="M212.5 389.3L217.1 393.9L212.5 398.5L207.9 393.9Z" fill="#ff6600"/>
<path d="M225.2 431.6L229.8 436.2L225.2 440.8L220.6 436.2Z" fill="#ff6600"/>
<path d="M235.8 444.7L240.4 449.3L235.8 453.9L231.2 449.3Z" fill="#ff6600"/>
<path d="M247.3 422.3L251.9 426.9L247.3 431.5L242.7 426.9Z" fill="#ff6600"/>
<path d="M256.8 426.5L261.4 431.1L256.8 435.7L252.2 431.1Z" fill="#ff6600"/>
<path d="M267.0 449.6L271.6 454.2L267.0 458.8L262.4 454.2Z" fill="#ff6600"/>
<path d="M286.0 445.2L290.6 449.8L286.0 454.4L281.4 449.8Z" fill="#ff6600"/>
<path d="M295.9 451.8L300.5 456.4L295.9 461.0L291.3 456.4Z" fill="#ff6600"/>
<path d="M311.4 427.1L316.0 431.7L311.4 436.3L306.8 431.7Z" fill="#ff6600"/>
<path d="M316.7 377.3L321.3 381.9L316.7 386.5L312.1 381.9Z" fill="#ff6600"/>
<path d="M316.7 371.3L321.3 375.9L316.7 380.5L312.1 375.9Z" fill="#ff6600"/>
<path d="M316.7 365.6L321.3 370.2L316.7 374.8L312.1 370.2Z" fill="#ff6600"/>
<path d="M322.3 322.1L326.9 326.7L322.3 331.3L317.7 326.7Z" fill="#ff6600"/>
<path d="M328.0 360.0L332.6 364.6L328.0 369.2L323.4 364.6Z" fill="#ff6600"/>
<path d="M332.7 339.3L337.3 343.9L332.7 348.5L328.1 343.9Z" fill="#ff6600"/>
<path d="M336.5 406.3L341.1 410.9L336.5 415.5L331.9 410.9Z" fill="#ff6600"/>
<path d="M341.5 313.8L346.1 318.4L341.5 323.0L336.9 318.4Z" fill="#ff6600"/>
<path d="M346.6 336.9L351.2 341.5L346.6 346.1L342.0 341.5Z" fill="#ff6600"/>
<path d="M352.9 355.9L357.5 360.5L352.9 365.1L348.3 360.5Z" fill="#ff6600"/>
<path d="M357.3 332.8L361.9 337.4L357.3 342.0L352.7 337.4Z" fill="#ff6600"/>
<path d="M357.3 322.9L361.9 327.5L357.3 332.1L352.7 327.5Z" fill="#ff6600"/>
<path d="M370.3 329.9L374.9 334.5L370.3 339.1L365.7 334.5Z" fill="#ff6600"/>
<path d="M388.7 339.9L393.3 344.5L388.7 349.1L384.1 344.5Z" fill="#ff6600"/>
<path d="M393.2 332.8L397.8 337.4L393.2 342.0L388.6 337.4Z" fill="#ff6600"/>
<path d="M398.0 340.7L402.6 345.3L398.0 349.9L393.4 345.3Z" fill="#ff6600"/>
<path d="M406.2 273.7L410.8 278.3L406.2 282.9L401.6 278.3Z" fill="#ff6600"/>
<path d="M412.7 263.0L417.3 267.6L412.7 272.2L408.1 267.6Z" fill="#ff6600"/>
<path d="M421.6 278.9L426.2 283.5L421.6 288.1L417.0 283.5Z" fill="#ff6600"/>
<path d="M431.9 335.7L436.5 340.3L431.9 344.9L427.3 340.3Z" fill="#ff6600"/>
<path d="M446.5 312.3L451.1 316.9L446.5 321.5L441.9 316.9Z" fill="#ff6600"/>
<path d="M452.1 353.2L456.7 357.8L452.1 362.4L447.5 357.8Z" fill="#ff6600"/>
<path d="M452.9 329.9L457.5 334.5L452.9 339.1L448.3 334.5Z" fill="#ff6600"/>
<path d="M469.0 347.1L473.6 351.7L469.0 356.3L464.4 351.7Z" fill="#ff6600"/>
<path d="M483.9 359.3L488.5 363.9L483.9 368.5L479.3 363.9Z" fill="#ff6600"/>
<path d="M498.7 449.6L503.3 454.2L498.7 458.8L494.1 454.2Z" fill="#ff6600"/>
<path d="M511.5 419.1L516.1 423.7L511.5 428.3L506.9 423.7Z" fill="#ff6600"/>
<path d="M520.6 270.8L525.2 275.4L520.6 280.0L516.0 275.4Z" fill="#ff6600"/>
<polyline points="159.9,751.1 163.6,763.1 169.3,739.0 172.6,771.9 175.8,773.4 179.1,794.9 186.6,740.8 193.8,699.6 202.1,689.1 212.8,700.7 225.1,773.4 235.8,708.4 247.4,662.4 256.6,678.4 267.1,715.6 267.1,723.3 286.1,640.1 295.9,733.1 311.1,590.2 317.0,667.4 317.0,644.5 322.0,587.3 328.0,619.9 332.5,667.0 336.5,687.5 341.2,649.0 346.7,653.7 353.6,700.4 357.5,667.0 370.3,671.7 388.3,671.7 393.4,656.4 398.1,676.2 406.3,644.6 412.3,633.0 421.5,578.4 431.7,687.7 446.6,695.3 452.1,670.0 452.1,647.5 469.5,687.7 483.8,606.6 498.7,746.4 511.4,668.7 521.0,620.9" fill="none" stroke="#ff6600" stroke-width="2.7" stroke-linejoin="round"/>
<path d="M159.9 746.5L164.5 751.1L159.9 755.7L155.3 751.1Z" fill="#ff6600"/>
<path d="M163.6 758.5L168.2 763.1L163.6 767.7L159.0 763.1Z" fill="#ff6600"/>
<path d="M169.3 734.4L173.9 739.0L169.3 743.6L164.7 739.0Z" fill="#ff6600"/>
<path d="M172.6 767.3L177.2 771.9L172.6 776.5L168.0 771.9Z" fill="#ff6600"/>
<path d="M175.8 768.8L180.4 773.4L175.8 778.0L171.2 773.4Z" fill="#ff6600"/>
<path d="M179.1 790.3L183.7 794.9L179.1 799.5L174.5 794.9Z" fill="#ff6600"/>
<path d="M186.6 736.2L191.2 740.8L186.6 745.4L182.0 740.8Z" fill="#ff6600"/>
<path d="M193.8 695.0L198.4 699.6L193.8 704.2L189.2 699.6Z" fill="#ff6600"/>
<path d="M202.1 684.5L206.7 689.1L202.1 693.7L197.5 689.1Z" fill="#ff6600"/>
<path d="M212.8 696.1L217.4 700.7L212.8 705.3L208.2 700.7Z" fill="#ff6600"/>
<path d="M225.1 768.8L229.7 773.4L225.1 778.0L220.5 773.4Z" fill="#ff6600"/>
<path d="M235.8 703.8L240.4 708.4L235.8 713.0L231.2 708.4Z" fill="#ff6600"/>
<path d="M247.4 657.8L252.0 662.4L247.4 667.0L242.8 662.4Z" fill="#ff6600"/>
<path d="M256.6 673.8L261.2 678.4L256.6 683.0L252.0 678.4Z" fill="#ff6600"/>
<path d="M267.1 711.0L271.7 715.6L267.1 720.2L262.5 715.6Z" fill="#ff6600"/>
<path d="M267.1 718.7L271.7 723.3L267.1 727.9L262.5 723.3Z" fill="#ff6600"/>
<path d="M286.1 635.5L290.7 640.1L286.1 644.7L281.5 640.1Z" fill="#ff6600"/>
<path d="M295.9 728.5L300.5 733.1L295.9 737.7L291.3 733.1Z" fill="#ff6600"/>
<path d="M311.1 585.6L315.7 590.2L311.1 594.8L306.5 590.2Z" fill="#ff6600"/>
<path d="M317.0 662.8L321.6 667.4L317.0 672.0L312.4 667.4Z" fill="#ff6600"/>
<path d="M317.0 639.9L321.6 644.5L317.0 649.1L312.4 644.5Z" fill="#ff6600"/>
<path d="M322.0 582.7L326.6 587.3L322.0 591.9L317.4 587.3Z" fill="#ff6600"/>
<path d="M328.0 615.3L332.6 619.9L328.0 624.5L323.4 619.9Z" fill="#ff6600"/>
<path d="M332.5 662.4L337.1 667.0L332.5 671.6L327.9 667.0Z" fill="#ff6600"/>
<path d="M336.5 682.9L341.1 687.5L336.5 692.1L331.9 687.5Z" fill="#ff6600"/>
<path d="M341.2 644.4L345.8 649.0L341.2 653.6L336.6 649.0Z" fill="#ff6600"/>
<path d="M346.7 649.1L351.3 653.7L346.7 658.3L342.1 653.7Z" fill="#ff6600"/>
<path d="M353.6 695.8L358.2 700.4L353.6 705.0L349.0 700.4Z" fill="#ff6600"/>
<path d="M357.5 662.4L362.1 667.0L357.5 671.6L352.9 667.0Z" fill="#ff6600"/>
<path d="M370.3 667.1L374.9 671.7L370.3 676.3L365.7 671.7Z" fill="#ff6600"/>
<path d="M388.3 667.1L392.9 671.7L388.3 676.3L383.7 671.7Z" fill="#ff6600"/>
<path d="M393.4 651.8L398.0 656.4L393.4 661.0L388.8 656.4Z" fill="#ff6600"/>
<path d="M398.1 671.6L402.7 676.2L398.1 680.8L393.5 676.2Z" fill="#ff6600"/>
<path d="M406.3 640.0L410.9 644.6L406.3 649.2L401.7 644.6Z" fill="#ff6600"/>
<path d="M412.3 628.4L416.9 633.0L412.3 637.6L407.7 633.0Z" fill="#ff6600"/>
<path d="M421.5 573.8L426.1 578.4L421.5 583.0L416.9 578.4Z" fill="#ff6600"/>
<path d="M431.7 683.1L436.3 687.7L431.7 692.3L427.1 687.7Z" fill="#ff6600"/>
<path d="M446.6 690.7L451.2 695.3L446.6 699.9L442.0 695.3Z" fill="#ff6600"/>
<path d="M452.1 665.4L456.7 670.0L452.1 674.6L447.5 670.0Z" fill="#ff6600"/>
<path d="M452.1 642.9L456.7 647.5L452.1 652.1L447.5 647.5Z" fill="#ff6600"/>
<path d="M469.5 683.1L474.1 687.7L469.5 692.3L464.9 687.7Z" fill="#ff6600"/>
<path d="M483.8 602.0L488.4 606.6L483.8 611.2L479.2 606.6Z" fill="#ff6600"/>
<path d="M498.7 741.8L503.3 746.4L498.7 751.0L494.1 746.4Z" fill="#ff6600"/>
<path d="M511.4 664.1L516.0 668.7L511.4 673.3L506.8 668.7Z" fill="#ff6600"/>
<path d="M521.0 616.3L525.6 620.9L521.0 625.5L516.4 620.9Z" fill="#ff6600"/>
<polyline points="267.4,794.5 268.1,784.6 266.7,772.9 268.1,757.6 268.5,780.6 275.6,748.1 283.5,755.8 288.2,771.5 295.1,726.9 304.1,742.3 304.1,730.6 310.2,730.6 315.9,754.2 325.7,753.1 330.3,752.1 338.2,734.7 357.7,684.4 357.7,676.9 362.8,730.0 370.3,695.9 383.2,725.3 390.4,683.0" fill="none" stroke="#990000" stroke-width="2.8" stroke-linejoin="round"/>
<path d="M267.4 790.1L271.8 794.5L267.4 798.9L263.0 794.5Z" fill="#990000"/>
<path d="M268.1 780.2L272.5 784.6L268.1 789.0L263.7 784.6Z" fill="#990000"/>
<path d="M266.7 768.5L271.1 772.9L266.7 777.3L262.3 772.9Z" fill="#990000"/>
<path d="M268.1 753.2L272.5 757.6L268.1 762.0L263.7 757.6Z" fill="#990000"/>
<path d="M268.5 776.2L272.9 780.6L268.5 785.0L264.1 780.6Z" fill="#990000"/>
<path d="M275.6 743.7L280.0 748.1L275.6 752.5L271.2 748.1Z" fill="#990000"/>
<path d="M283.5 751.4L287.9 755.8L283.5 760.2L279.1 755.8Z" fill="#990000"/>
<path d="M288.2 767.1L292.6 771.5L288.2 775.9L283.8 771.5Z" fill="#990000"/>
<path d="M295.1 722.5L299.5 726.9L295.1 731.3L290.7 726.9Z" fill="#990000"/>
<path d="M304.1 737.9L308.5 742.3L304.1 746.7L299.7 742.3Z" fill="#990000"/>
<path d="M304.1 726.2L308.5 730.6L304.1 735.0L299.7 730.6Z" fill="#990000"/>
<path d="M310.2 726.2L314.6 730.6L310.2 735.0L305.8 730.6Z" fill="#990000"/>
<path d="M315.9 749.8L320.3 754.2L315.9 758.6L311.5 754.2Z" fill="#990000"/>
<path d="M325.7 748.7L330.1 753.1L325.7 757.5L321.3 753.1Z" fill="#990000"/>
<path d="M330.3 747.7L334.7 752.1L330.3 756.5L325.9 752.1Z" fill="#990000"/>
<path d="M338.2 730.3L342.6 734.7L338.2 739.1L333.8 734.7Z" fill="#990000"/>
<path d="M357.7 680.0L362.1 684.4L357.7 688.8L353.3 684.4Z" fill="#990000"/>
<path d="M357.7 672.5L362.1 676.9L357.7 681.3L353.3 676.9Z" fill="#990000"/>
<path d="M362.8 725.6L367.2 730.0L362.8 734.4L358.4 730.0Z" fill="#990000"/>
<path d="M370.3 691.5L374.7 695.9L370.3 700.3L365.9 695.9Z" fill="#990000"/>
<path d="M383.2 720.9L387.6 725.3L383.2 729.7L378.8 725.3Z" fill="#990000"/>
<path d="M390.4 678.6L394.8 683.0L390.4 687.4L386.0 683.0Z" fill="#990000"/>
<polyline points="160.2,1053.2 163.9,1049.5 169.0,1069.3 173.1,1041.9 176.2,1052.6 179.0,1069.9 193.5,1030.1 202.1,1057.3 212.3,1037.8 225.0,1026.6 235.8,1045.0 247.1,1018.4 266.5,1004.3 285.7,1020.9 296.2,993.7 311.1,938.5 316.7,958.7 321.2,971.0 327.7,945.9 333.0,984.4 336.5,923.7 341.7,943.4 346.5,954.7 352.8,936.4 357.5,951.7 370.5,964.0 388.6,982.1 393.0,945.4 406.4,925.5 412.5,962.0 432.2,941.3 446.4,1012.0 452.4,891.5 484.0,935.5 498.5,1008.2 511.6,1037.9 520.8,981.5" fill="none" stroke="#ff6633" stroke-width="2.7" stroke-linejoin="round"/>
<path d="M160.2 1048.7L164.7 1053.2L160.2 1057.7L155.7 1053.2Z" fill="#ff6633"/>
<path d="M163.9 1045.0L168.4 1049.5L163.9 1054.0L159.4 1049.5Z" fill="#ff6633"/>
<path d="M169.0 1064.8L173.5 1069.3L169.0 1073.8L164.5 1069.3Z" fill="#ff6633"/>
<path d="M173.1 1037.4L177.6 1041.9L173.1 1046.4L168.6 1041.9Z" fill="#ff6633"/>
<path d="M176.2 1048.1L180.7 1052.6L176.2 1057.1L171.7 1052.6Z" fill="#ff6633"/>
<path d="M179.0 1065.4L183.5 1069.9L179.0 1074.4L174.5 1069.9Z" fill="#ff6633"/>
<path d="M193.5 1025.6L198.0 1030.1L193.5 1034.6L189.0 1030.1Z" fill="#ff6633"/>
<path d="M202.1 1052.8L206.6 1057.3L202.1 1061.8L197.6 1057.3Z" fill="#ff6633"/>
<path d="M212.3 1033.3L216.8 1037.8L212.3 1042.3L207.8 1037.8Z" fill="#ff6633"/>
<path d="M225.0 1022.1L229.5 1026.6L225.0 1031.1L220.5 1026.6Z" fill="#ff6633"/>
<path d="M235.8 1040.5L240.3 1045.0L235.8 1049.5L231.3 1045.0Z" fill="#ff6633"/>
<path d="M247.1 1013.9L251.6 1018.4L247.1 1022.9L242.6 1018.4Z" fill="#ff6633"/>
<path d="M266.5 999.8L271.0 1004.3L266.5 1008.8L262.0 1004.3Z" fill="#ff6633"/>
<path d="M285.7 1016.4L290.2 1020.9L285.7 1025.4L281.2 1020.9Z" fill="#ff6633"/>
<path d="M296.2 989.2L300.7 993.7L296.2 998.2L291.7 993.7Z" fill="#ff6633"/>
<path d="M311.1 934.0L315.6 938.5L311.1 943.0L306.6 938.5Z" fill="#ff6633"/>
<path d="M316.7 954.2L321.2 958.7L316.7 963.2L312.2 958.7Z" fill="#ff6633"/>
<path d="M321.2 966.5L325.7 971.0L321.2 975.5L316.7 971.0Z" fill="#ff6633"/>
<path d="M327.7 941.4L332.2 945.9L327.7 950.4L323.2 945.9Z" fill="#ff6633"/>
<path d="M333.0 979.9L337.5 984.4L333.0 988.9L328.5 984.4Z" fill="#ff6633"/>
<path d="M336.5 919.2L341.0 923.7L336.5 928.2L332.0 923.7Z" fill="#ff6633"/>
<path d="M341.7 938.9L346.2 943.4L341.7 947.9L337.2 943.4Z" fill="#ff6633"/>
<path d="M346.5 950.2L351.0 954.7L346.5 959.2L342.0 954.7Z" fill="#ff6633"/>
<path d="M352.8 931.9L357.3 936.4L352.8 940.9L348.3 936.4Z" fill="#ff6633"/>
<path d="M357.5 947.2L362.0 951.7L357.5 956.2L353.0 951.7Z" fill="#ff6633"/>
<path d="M370.5 959.5L375.0 964.0L370.5 968.5L366.0 964.0Z" fill="#ff6633"/>
<path d="M388.6 977.6L393.1 982.1L388.6 986.6L384.1 982.1Z" fill="#ff6633"/>
<path d="M393.0 940.9L397.5 945.4L393.0 949.9L388.5 945.4Z" fill="#ff6633"/>
<path d="M406.4 921.0L410.9 925.5L406.4 930.0L401.9 925.5Z" fill="#ff6633"/>
<path d="M412.5 957.5L417.0 962.0L412.5 966.5L408.0 962.0Z" fill="#ff6633"/>
<path d="M432.2 936.8L436.7 941.3L432.2 945.8L427.7 941.3Z" fill="#ff6633"/>
<path d="M446.4 1007.5L450.9 1012.0L446.4 1016.5L441.9 1012.0Z" fill="#ff6633"/>
<path d="M452.4 887.0L456.9 891.5L452.4 896.0L447.9 891.5Z" fill="#ff6633"/>
<path d="M484.0 931.0L488.5 935.5L484.0 940.0L479.5 935.5Z" fill="#ff6633"/>
<path d="M498.5 1003.7L503.0 1008.2L498.5 1012.7L494.0 1008.2Z" fill="#ff6633"/>
<path d="M511.6 1033.4L516.1 1037.9L511.6 1042.4L507.1 1037.9Z" fill="#ff6633"/>
<path d="M520.8 977.0L525.3 981.5L520.8 986.0L516.3 981.5Z" fill="#ff6633"/>
<polyline points="265.9,1089.2 264.6,1077.8 263.8,1049.8 268.1,1001.6 267.6,983.7 268.1,979.7 275.7,917.5 283.4,947.3 288.3,920.7 295.0,977.1 304.1,929.4 310.2,975.7 316.3,986.7 319.8,1060.3 326.0,959.6 330.3,1034.9 338.2,996.0 342.6,977.1 363.3,982.0 371.0,1000.2 383.7,1001.5 390.3,1070.8" fill="none" stroke="#990000" stroke-width="2.8" stroke-linejoin="round"/>
<path d="M265.9 1084.5L270.6 1089.2L265.9 1093.9L261.2 1089.2Z" fill="#990000"/>
<path d="M264.6 1073.1L269.3 1077.8L264.6 1082.5L259.9 1077.8Z" fill="#990000"/>
<path d="M263.8 1045.1L268.5 1049.8L263.8 1054.5L259.1 1049.8Z" fill="#990000"/>
<path d="M268.1 996.9L272.8 1001.6L268.1 1006.3L263.4 1001.6Z" fill="#990000"/>
<path d="M267.6 979.0L272.3 983.7L267.6 988.4L262.9 983.7Z" fill="#990000"/>
<path d="M268.1 975.0L272.8 979.7L268.1 984.4L263.4 979.7Z" fill="#990000"/>
<path d="M275.7 912.8L280.4 917.5L275.7 922.2L271.0 917.5Z" fill="#990000"/>
<path d="M283.4 942.6L288.1 947.3L283.4 952.0L278.7 947.3Z" fill="#990000"/>
<path d="M288.3 916.0L293.0 920.7L288.3 925.4L283.6 920.7Z" fill="#990000"/>
<path d="M295.0 972.4L299.7 977.1L295.0 981.8L290.3 977.1Z" fill="#990000"/>
<path d="M304.1 924.7L308.8 929.4L304.1 934.1L299.4 929.4Z" fill="#990000"/>
<path d="M310.2 971.0L314.9 975.7L310.2 980.4L305.5 975.7Z" fill="#990000"/>
<path d="M316.3 982.0L321.0 986.7L316.3 991.4L311.6 986.7Z" fill="#990000"/>
<path d="M319.8 1055.6L324.5 1060.3L319.8 1065.0L315.1 1060.3Z" fill="#990000"/>
<path d="M326.0 954.9L330.7 959.6L326.0 964.3L321.3 959.6Z" fill="#990000"/>
<path d="M330.3 1030.2L335.0 1034.9L330.3 1039.6L325.6 1034.9Z" fill="#990000"/>
<path d="M338.2 991.3L342.9 996.0L338.2 1000.7L333.5 996.0Z" fill="#990000"/>
<path d="M342.6 972.4L347.3 977.1L342.6 981.8L337.9 977.1Z" fill="#990000"/>
<path d="M363.3 977.3L368.0 982.0L363.3 986.7L358.6 982.0Z" fill="#990000"/>
<path d="M371.0 995.5L375.7 1000.2L371.0 1004.9L366.3 1000.2Z" fill="#990000"/>
<path d="M383.7 996.8L388.4 1001.5L383.7 1006.2L379.0 1001.5Z" fill="#990000"/>
<path d="M390.3 1066.1L395.0 1070.8L390.3 1075.5L385.6 1070.8Z" fill="#990000"/>
<rect x="77.60" y="20.20" width="514.40" height="183.90" fill="none" stroke="#000" stroke-width="1.8"/>
<line x1="109.75" y1="20.20" x2="109.75" y2="24.40" stroke="#000" stroke-width="1.6"/>
<line x1="109.75" y1="204.10" x2="109.75" y2="199.90" stroke="#000" stroke-width="1.6"/>
<line x1="141.90" y1="20.20" x2="141.90" y2="27.70" stroke="#000" stroke-width="1.6"/>
<line x1="141.90" y1="204.10" x2="141.90" y2="196.60" stroke="#000" stroke-width="1.6"/>
<line x1="174.05" y1="20.20" x2="174.05" y2="24.40" stroke="#000" stroke-width="1.6"/>
<line x1="174.05" y1="204.10" x2="174.05" y2="199.90" stroke="#000" stroke-width="1.6"/>
<line x1="206.20" y1="20.20" x2="206.20" y2="27.70" stroke="#000" stroke-width="1.6"/>
<line x1="206.20" y1="204.10" x2="206.20" y2="196.60" stroke="#000" stroke-width="1.6"/>
<line x1="238.35" y1="20.20" x2="238.35" y2="24.40" stroke="#000" stroke-width="1.6"/>
<line x1="238.35" y1="204.10" x2="238.35" y2="199.90" stroke="#000" stroke-width="1.6"/>
<line x1="270.50" y1="20.20" x2="270.50" y2="27.70" stroke="#000" stroke-width="1.6"/>
<line x1="270.50" y1="204.10" x2="270.50" y2="196.60" stroke="#000" stroke-width="1.6"/>
<line x1="302.65" y1="20.20" x2="302.65" y2="24.40" stroke="#000" stroke-width="1.6"/>
<line x1="302.65" y1="204.10" x2="302.65" y2="199.90" stroke="#000" stroke-width="1.6"/>
<line x1="334.80" y1="20.20" x2="334.80" y2="27.70" stroke="#000" stroke-width="1.6"/>
<line x1="334.80" y1="204.10" x2="334.80" y2="196.60" stroke="#000" stroke-width="1.6"/>
<line x1="366.95" y1="20.20" x2="366.95" y2="24.40" stroke="#000" stroke-width="1.6"/>
<line x1="366.95" y1="204.10" x2="366.95" y2="199.90" stroke="#000" stroke-width="1.6"/>
<line x1="399.10" y1="20.20" x2="399.10" y2="27.70" stroke="#000" stroke-width="1.6"/>
<line x1="399.10" y1="204.10" x2="399.10" y2="196.60" stroke="#000" stroke-width="1.6"/>
<line x1="431.25" y1="20.20" x2="431.25" y2="24.40" stroke="#000" stroke-width="1.6"/>
<line x1="431.25" y1="204.10" x2="431.25" y2="199.90" stroke="#000" stroke-width="1.6"/>
<line x1="463.40" y1="20.20" x2="463.40" y2="27.70" stroke="#000" stroke-width="1.6"/>
<line x1="463.40" y1="204.10" x2="463.40" y2="196.60" stroke="#000" stroke-width="1.6"/>
<line x1="495.55" y1="20.20" x2="495.55" y2="24.40" stroke="#000" stroke-width="1.6"/>
<line x1="495.55" y1="204.10" x2="495.55" y2="199.90" stroke="#000" stroke-width="1.6"/>
<line x1="527.70" y1="20.20" x2="527.70" y2="27.70" stroke="#000" stroke-width="1.6"/>
<line x1="527.70" y1="204.10" x2="527.70" y2="196.60" stroke="#000" stroke-width="1.6"/>
<line x1="559.85" y1="20.20" x2="559.85" y2="24.40" stroke="#000" stroke-width="1.6"/>
<line x1="559.85" y1="204.10" x2="559.85" y2="199.90" stroke="#000" stroke-width="1.6"/>
<rect x="77.60" y="218.00" width="514.40" height="294.40" fill="none" stroke="#000" stroke-width="1.8"/>
<line x1="109.75" y1="218.00" x2="109.75" y2="222.20" stroke="#000" stroke-width="1.6"/>
<line x1="109.75" y1="512.40" x2="109.75" y2="508.20" stroke="#000" stroke-width="1.6"/>
<line x1="141.90" y1="218.00" x2="141.90" y2="225.50" stroke="#000" stroke-width="1.6"/>
<line x1="141.90" y1="512.40" x2="141.90" y2="504.90" stroke="#000" stroke-width="1.6"/>
<line x1="174.05" y1="218.00" x2="174.05" y2="222.20" stroke="#000" stroke-width="1.6"/>
<line x1="174.05" y1="512.40" x2="174.05" y2="508.20" stroke="#000" stroke-width="1.6"/>
<line x1="206.20" y1="218.00" x2="206.20" y2="225.50" stroke="#000" stroke-width="1.6"/>
<line x1="206.20" y1="512.40" x2="206.20" y2="504.90" stroke="#000" stroke-width="1.6"/>
<line x1="238.35" y1="218.00" x2="238.35" y2="222.20" stroke="#000" stroke-width="1.6"/>
<line x1="238.35" y1="512.40" x2="238.35" y2="508.20" stroke="#000" stroke-width="1.6"/>
<line x1="270.50" y1="218.00" x2="270.50" y2="225.50" stroke="#000" stroke-width="1.6"/>
<line x1="270.50" y1="512.40" x2="270.50" y2="504.90" stroke="#000" stroke-width="1.6"/>
<line x1="302.65" y1="218.00" x2="302.65" y2="222.20" stroke="#000" stroke-width="1.6"/>
<line x1="302.65" y1="512.40" x2="302.65" y2="508.20" stroke="#000" stroke-width="1.6"/>
<line x1="334.80" y1="218.00" x2="334.80" y2="225.50" stroke="#000" stroke-width="1.6"/>
<line x1="334.80" y1="512.40" x2="334.80" y2="504.90" stroke="#000" stroke-width="1.6"/>
<line x1="366.95" y1="218.00" x2="366.95" y2="222.20" stroke="#000" stroke-width="1.6"/>
<line x1="366.95" y1="512.40" x2="366.95" y2="508.20" stroke="#000" stroke-width="1.6"/>
<line x1="399.10" y1="218.00" x2="399.10" y2="225.50" stroke="#000" stroke-width="1.6"/>
<line x1="399.10" y1="512.40" x2="399.10" y2="504.90" stroke="#000" stroke-width="1.6"/>
<line x1="431.25" y1="218.00" x2="431.25" y2="222.20" stroke="#000" stroke-width="1.6"/>
<line x1="431.25" y1="512.40" x2="431.25" y2="508.20" stroke="#000" stroke-width="1.6"/>
<line x1="463.40" y1="218.00" x2="463.40" y2="225.50" stroke="#000" stroke-width="1.6"/>
<line x1="463.40" y1="512.40" x2="463.40" y2="504.90" stroke="#000" stroke-width="1.6"/>
<line x1="495.55" y1="218.00" x2="495.55" y2="222.20" stroke="#000" stroke-width="1.6"/>
<line x1="495.55" y1="512.40" x2="495.55" y2="508.20" stroke="#000" stroke-width="1.6"/>
<line x1="527.70" y1="218.00" x2="527.70" y2="225.50" stroke="#000" stroke-width="1.6"/>
<line x1="527.70" y1="512.40" x2="527.70" y2="504.90" stroke="#000" stroke-width="1.6"/>
<line x1="559.85" y1="218.00" x2="559.85" y2="222.20" stroke="#000" stroke-width="1.6"/>
<line x1="559.85" y1="512.40" x2="559.85" y2="508.20" stroke="#000" stroke-width="1.6"/>
<rect x="77.60" y="528.50" width="514.40" height="294.30" fill="none" stroke="#000" stroke-width="1.8"/>
<line x1="109.75" y1="528.50" x2="109.75" y2="532.70" stroke="#000" stroke-width="1.6"/>
<line x1="109.75" y1="822.80" x2="109.75" y2="818.60" stroke="#000" stroke-width="1.6"/>
<line x1="141.90" y1="528.50" x2="141.90" y2="536.00" stroke="#000" stroke-width="1.6"/>
<line x1="141.90" y1="822.80" x2="141.90" y2="815.30" stroke="#000" stroke-width="1.6"/>
<line x1="174.05" y1="528.50" x2="174.05" y2="532.70" stroke="#000" stroke-width="1.6"/>
<line x1="174.05" y1="822.80" x2="174.05" y2="818.60" stroke="#000" stroke-width="1.6"/>
<line x1="206.20" y1="528.50" x2="206.20" y2="536.00" stroke="#000" stroke-width="1.6"/>
<line x1="206.20" y1="822.80" x2="206.20" y2="815.30" stroke="#000" stroke-width="1.6"/>
<line x1="238.35" y1="528.50" x2="238.35" y2="532.70" stroke="#000" stroke-width="1.6"/>
<line x1="238.35" y1="822.80" x2="238.35" y2="818.60" stroke="#000" stroke-width="1.6"/>
<line x1="270.50" y1="528.50" x2="270.50" y2="536.00" stroke="#000" stroke-width="1.6"/>
<line x1="270.50" y1="822.80" x2="270.50" y2="815.30" stroke="#000" stroke-width="1.6"/>
<line x1="302.65" y1="528.50" x2="302.65" y2="532.70" stroke="#000" stroke-width="1.6"/>
<line x1="302.65" y1="822.80" x2="302.65" y2="818.60" stroke="#000" stroke-width="1.6"/>
<line x1="334.80" y1="528.50" x2="334.80" y2="536.00" stroke="#000" stroke-width="1.6"/>
<line x1="334.80" y1="822.80" x2="334.80" y2="815.30" stroke="#000" stroke-width="1.6"/>
<line x1="366.95" y1="528.50" x2="366.95" y2="532.70" stroke="#000" stroke-width="1.6"/>
<line x1="366.95" y1="822.80" x2="366.95" y2="818.60" stroke="#000" stroke-width="1.6"/>
<line x1="399.10" y1="528.50" x2="399.10" y2="536.00" stroke="#000" stroke-width="1.6"/>
<line x1="399.10" y1="822.80" x2="399.10" y2="815.30" stroke="#000" stroke-width="1.6"/>
<line x1="431.25" y1="528.50" x2="431.25" y2="532.70" stroke="#000" stroke-width="1.6"/>
<line x1="431.25" y1="822.80" x2="431.25" y2="818.60" stroke="#000" stroke-width="1.6"/>
<line x1="463.40" y1="528.50" x2="463.40" y2="536.00" stroke="#000" stroke-width="1.6"/>
<line x1="463.40" y1="822.80" x2="463.40" y2="815.30" stroke="#000" stroke-width="1.6"/>
<line x1="495.55" y1="528.50" x2="495.55" y2="532.70" stroke="#000" stroke-width="1.6"/>
<line x1="495.55" y1="822.80" x2="495.55" y2="818.60" stroke="#000" stroke-width="1.6"/>
<line x1="527.70" y1="528.50" x2="527.70" y2="536.00" stroke="#000" stroke-width="1.6"/>
<line x1="527.70" y1="822.80" x2="527.70" y2="815.30" stroke="#000" stroke-width="1.6"/>
<line x1="559.85" y1="528.50" x2="559.85" y2="532.70" stroke="#000" stroke-width="1.6"/>
<line x1="559.85" y1="822.80" x2="559.85" y2="818.60" stroke="#000" stroke-width="1.6"/>
<rect x="77.60" y="839.50" width="514.40" height="294.50" fill="none" stroke="#000" stroke-width="1.8"/>
<line x1="109.75" y1="839.50" x2="109.75" y2="843.70" stroke="#000" stroke-width="1.6"/>
<line x1="109.75" y1="1134.00" x2="109.75" y2="1129.80" stroke="#000" stroke-width="1.6"/>
<line x1="141.90" y1="839.50" x2="141.90" y2="847.00" stroke="#000" stroke-width="1.6"/>
<line x1="141.90" y1="1134.00" x2="141.90" y2="1126.50" stroke="#000" stroke-width="1.6"/>
<line x1="174.05" y1="839.50" x2="174.05" y2="843.70" stroke="#000" stroke-width="1.6"/>
<line x1="174.05" y1="1134.00" x2="174.05" y2="1129.80" stroke="#000" stroke-width="1.6"/>
<line x1="206.20" y1="839.50" x2="206.20" y2="847.00" stroke="#000" stroke-width="1.6"/>
<line x1="206.20" y1="1134.00" x2="206.20" y2="1126.50" stroke="#000" stroke-width="1.6"/>
<line x1="238.35" y1="839.50" x2="238.35" y2="843.70" stroke="#000" stroke-width="1.6"/>
<line x1="238.35" y1="1134.00" x2="238.35" y2="1129.80" stroke="#000" stroke-width="1.6"/>
<line x1="270.50" y1="839.50" x2="270.50" y2="847.00" stroke="#000" stroke-width="1.6"/>
<line x1="270.50" y1="1134.00" x2="270.50" y2="1126.50" stroke="#000" stroke-width="1.6"/>
<line x1="302.65" y1="839.50" x2="302.65" y2="843.70" stroke="#000" stroke-width="1.6"/>
<line x1="302.65" y1="1134.00" x2="302.65" y2="1129.80" stroke="#000" stroke-width="1.6"/>
<line x1="334.80" y1="839.50" x2="334.80" y2="847.00" stroke="#000" stroke-width="1.6"/>
<line x1="334.80" y1="1134.00" x2="334.80" y2="1126.50" stroke="#000" stroke-width="1.6"/>
<line x1="366.95" y1="839.50" x2="366.95" y2="843.70" stroke="#000" stroke-width="1.6"/>
<line x1="366.95" y1="1134.00" x2="366.95" y2="1129.80" stroke="#000" stroke-width="1.6"/>
<line x1="399.10" y1="839.50" x2="399.10" y2="847.00" stroke="#000" stroke-width="1.6"/>
<line x1="399.10" y1="1134.00" x2="399.10" y2="1126.50" stroke="#000" stroke-width="1.6"/>
<line x1="431.25" y1="839.50" x2="431.25" y2="843.70" stroke="#000" stroke-width="1.6"/>
<line x1="431.25" y1="1134.00" x2="431.25" y2="1129.80" stroke="#000" stroke-width="1.6"/>
<line x1="463.40" y1="839.50" x2="463.40" y2="847.00" stroke="#000" stroke-width="1.6"/>
<line x1="463.40" y1="1134.00" x2="463.40" y2="1126.50" stroke="#000" stroke-width="1.6"/>
<line x1="495.55" y1="839.50" x2="495.55" y2="843.70" stroke="#000" stroke-width="1.6"/>
<line x1="495.55" y1="1134.00" x2="495.55" y2="1129.80" stroke="#000" stroke-width="1.6"/>
<line x1="527.70" y1="839.50" x2="527.70" y2="847.00" stroke="#000" stroke-width="1.6"/>
<line x1="527.70" y1="1134.00" x2="527.70" y2="1126.50" stroke="#000" stroke-width="1.6"/>
<line x1="559.85" y1="839.50" x2="559.85" y2="843.70" stroke="#000" stroke-width="1.6"/>
<line x1="559.85" y1="1134.00" x2="559.85" y2="1129.80" stroke="#000" stroke-width="1.6"/>
<text x="77.6" y="12.3" font-size="17" text-anchor="middle" font-weight="normal" fill="#000" >6</text>
<text x="77.6" y="1154.9" font-size="17" text-anchor="middle" font-weight="normal" fill="#000" >6</text>
<text x="141.9" y="12.3" font-size="17" text-anchor="middle" font-weight="normal" fill="#000" >8</text>
<text x="141.9" y="1154.9" font-size="17" text-anchor="middle" font-weight="normal" fill="#000" >8</text>
<text x="206.2" y="12.3" font-size="17" text-anchor="middle" font-weight="normal" fill="#000" >10</text>
<text x="206.2" y="1154.9" font-size="17" text-anchor="middle" font-weight="normal" fill="#000" >10</text>
<text x="270.5" y="12.3" font-size="17" text-anchor="middle" font-weight="normal" fill="#000" >12</text>
<text x="270.5" y="1154.9" font-size="17" text-anchor="middle" font-weight="normal" fill="#000" >12</text>
<text x="334.8" y="12.3" font-size="17" text-anchor="middle" font-weight="normal" fill="#000" >14</text>
<text x="334.8" y="1154.9" font-size="17" text-anchor="middle" font-weight="normal" fill="#000" >14</text>
<text x="399.1" y="12.3" font-size="17" text-anchor="middle" font-weight="normal" fill="#000" >16</text>
<text x="399.1" y="1154.9" font-size="17" text-anchor="middle" font-weight="normal" fill="#000" >16</text>
<text x="463.4" y="12.3" font-size="17" text-anchor="middle" font-weight="normal" fill="#000" >18</text>
<text x="463.4" y="1154.9" font-size="17" text-anchor="middle" font-weight="normal" fill="#000" >18</text>
<text x="527.7" y="12.3" font-size="17" text-anchor="middle" font-weight="normal" fill="#000" >20</text>
<text x="527.7" y="1154.9" font-size="17" text-anchor="middle" font-weight="normal" fill="#000" >20</text>
<text x="592.0" y="12.3" font-size="17" text-anchor="middle" font-weight="normal" fill="#000" >22</text>
<text x="592.0" y="1154.9" font-size="17" text-anchor="middle" font-weight="normal" fill="#000" >22</text>
<text x="334.6" y="1174.4" font-size="18.6" text-anchor="middle" font-weight="normal" fill="#000" >Age (Ma)</text>
<line x1="592.00" y1="20.20" x2="599.00" y2="20.20" stroke="#000" stroke-width="1.6"/>
<text x="605.0" y="26.1" font-size="16.5" text-anchor="start" font-weight="normal" fill="#000" >1</text>
<line x1="592.00" y1="50.85" x2="599.00" y2="50.85" stroke="#000" stroke-width="1.6"/>
<text x="605.0" y="56.8" font-size="16.5" text-anchor="start" font-weight="normal" fill="#000" >1.5</text>
<line x1="592.00" y1="81.50" x2="599.00" y2="81.50" stroke="#000" stroke-width="1.6"/>
<text x="605.0" y="87.4" font-size="16.5" text-anchor="start" font-weight="normal" fill="#000" >2</text>
<line x1="592.00" y1="112.15" x2="599.00" y2="112.15" stroke="#000" stroke-width="1.6"/>
<text x="605.0" y="118.1" font-size="16.5" text-anchor="start" font-weight="normal" fill="#000" >2.5</text>
<line x1="592.00" y1="142.80" x2="599.00" y2="142.80" stroke="#000" stroke-width="1.6"/>
<text x="605.0" y="148.7" font-size="16.5" text-anchor="start" font-weight="normal" fill="#000" >3</text>
<line x1="592.00" y1="173.45" x2="599.00" y2="173.45" stroke="#000" stroke-width="1.6"/>
<text x="605.0" y="179.3" font-size="16.5" text-anchor="start" font-weight="normal" fill="#000" >3.5</text>
<line x1="592.00" y1="204.10" x2="599.00" y2="204.10" stroke="#000" stroke-width="1.6"/>
<text x="605.0" y="210.0" font-size="16.5" text-anchor="start" font-weight="normal" fill="#000" >4</text>
<text x="96.0" y="52.9" font-size="19" text-anchor="start" font-weight="bold" fill="#000" >(a)</text>
<text x="327.0" y="180.9" font-size="18.9" text-anchor="middle" font-weight="normal" fill="#000" >MMCT</text>
<text x="394.7" y="180.9" font-size="18.9" text-anchor="middle" font-weight="normal" fill="#000" >MCO</text>
<line x1="294.00" y1="189.00" x2="357.50" y2="189.00" stroke="#000" stroke-width="1.8"/>
<path d="M292.3 189.0L302.3 184.6L297.8 189.0L302.3 193.4Z" fill="#000" stroke="#000" stroke-width="1.2" stroke-linejoin="miter"/>
<path d="M359.2 189.0L349.2 184.6L353.7 189.0L349.2 193.4Z" fill="#000" stroke="#000" stroke-width="1.2" stroke-linejoin="miter"/>
<line x1="360.50" y1="189.00" x2="429.00" y2="189.00" stroke="#000" stroke-width="1.8"/>
<path d="M358.7 189.0L368.7 184.6L364.2 189.0L368.7 193.4Z" fill="#000" stroke="#000" stroke-width="1.2" stroke-linejoin="miter"/>
<path d="M430.7 189.0L420.7 184.6L425.2 189.0L420.7 193.4Z" fill="#000" stroke="#000" stroke-width="1.2" stroke-linejoin="miter"/>
<line x1="69.90" y1="485.64" x2="77.60" y2="485.64" stroke="#000" stroke-width="1.6"/>
<text x="65.0" y="491.5" font-size="16.5" text-anchor="end" font-weight="normal" fill="#000" >50</text>
<line x1="73.40" y1="463.33" x2="77.60" y2="463.33" stroke="#000" stroke-width="1.6"/>
<line x1="69.90" y1="441.03" x2="77.60" y2="441.03" stroke="#000" stroke-width="1.6"/>
<text x="65.0" y="446.9" font-size="16.5" text-anchor="end" font-weight="normal" fill="#000" >100</text>
<line x1="73.40" y1="418.73" x2="77.60" y2="418.73" stroke="#000" stroke-width="1.6"/>
<line x1="69.90" y1="396.42" x2="77.60" y2="396.42" stroke="#000" stroke-width="1.6"/>
<text x="65.0" y="402.3" font-size="16.5" text-anchor="end" font-weight="normal" fill="#000" >150</text>
<line x1="73.40" y1="374.12" x2="77.60" y2="374.12" stroke="#000" stroke-width="1.6"/>
<line x1="69.90" y1="351.82" x2="77.60" y2="351.82" stroke="#000" stroke-width="1.6"/>
<text x="65.0" y="357.7" font-size="16.5" text-anchor="end" font-weight="normal" fill="#000" >200</text>
<line x1="73.40" y1="329.52" x2="77.60" y2="329.52" stroke="#000" stroke-width="1.6"/>
<line x1="69.90" y1="307.21" x2="77.60" y2="307.21" stroke="#000" stroke-width="1.6"/>
<text x="65.0" y="313.1" font-size="16.5" text-anchor="end" font-weight="normal" fill="#000" >250</text>
<line x1="73.40" y1="284.91" x2="77.60" y2="284.91" stroke="#000" stroke-width="1.6"/>
<line x1="69.90" y1="262.61" x2="77.60" y2="262.61" stroke="#000" stroke-width="1.6"/>
<text x="65.0" y="268.5" font-size="16.5" text-anchor="end" font-weight="normal" fill="#000" >300</text>
<line x1="73.40" y1="240.30" x2="77.60" y2="240.30" stroke="#000" stroke-width="1.6"/>
<line x1="69.90" y1="218.00" x2="77.60" y2="218.00" stroke="#000" stroke-width="1.6"/>
<text x="65.0" y="223.9" font-size="16.5" text-anchor="end" font-weight="normal" fill="#000" >350</text>
<line x1="69.90" y1="822.80" x2="77.60" y2="822.80" stroke="#000" stroke-width="1.6"/>
<text x="65.0" y="828.7" font-size="16.5" text-anchor="end" font-weight="normal" fill="#000" >0.4</text>
<line x1="73.40" y1="793.37" x2="77.60" y2="793.37" stroke="#000" stroke-width="1.6"/>
<line x1="69.90" y1="763.94" x2="77.60" y2="763.94" stroke="#000" stroke-width="1.6"/>
<text x="65.0" y="769.8" font-size="16.5" text-anchor="end" font-weight="normal" fill="#000" >0.8</text>
<line x1="73.40" y1="734.51" x2="77.60" y2="734.51" stroke="#000" stroke-width="1.6"/>
<line x1="69.90" y1="705.08" x2="77.60" y2="705.08" stroke="#000" stroke-width="1.6"/>
<text x="65.0" y="711.0" font-size="16.5" text-anchor="end" font-weight="normal" fill="#000" >1.2</text>
<line x1="73.40" y1="675.65" x2="77.60" y2="675.65" stroke="#000" stroke-width="1.6"/>
<line x1="69.90" y1="646.22" x2="77.60" y2="646.22" stroke="#000" stroke-width="1.6"/>
<text x="65.0" y="652.1" font-size="16.5" text-anchor="end" font-weight="normal" fill="#000" >1.6</text>
<line x1="73.40" y1="616.79" x2="77.60" y2="616.79" stroke="#000" stroke-width="1.6"/>
<line x1="69.90" y1="587.36" x2="77.60" y2="587.36" stroke="#000" stroke-width="1.6"/>
<text x="65.0" y="593.3" font-size="16.5" text-anchor="end" font-weight="normal" fill="#000" >2</text>
<line x1="73.40" y1="557.93" x2="77.60" y2="557.93" stroke="#000" stroke-width="1.6"/>
<line x1="69.90" y1="528.50" x2="77.60" y2="528.50" stroke="#000" stroke-width="1.6"/>
<text x="65.0" y="534.4" font-size="16.5" text-anchor="end" font-weight="normal" fill="#000" >2.4</text>
<line x1="69.90" y1="839.50" x2="77.60" y2="839.50" stroke="#000" stroke-width="1.6"/>
<text x="65.0" y="845.4" font-size="16.5" text-anchor="end" font-weight="normal" fill="#000" >3</text>
<line x1="73.40" y1="864.04" x2="77.60" y2="864.04" stroke="#000" stroke-width="1.6"/>
<line x1="69.90" y1="888.58" x2="77.60" y2="888.58" stroke="#000" stroke-width="1.6"/>
<text x="65.0" y="894.5" font-size="16.5" text-anchor="end" font-weight="normal" fill="#000" >4</text>
<line x1="73.40" y1="913.12" x2="77.60" y2="913.12" stroke="#000" stroke-width="1.6"/>
<line x1="69.90" y1="937.67" x2="77.60" y2="937.67" stroke="#000" stroke-width="1.6"/>
<text x="65.0" y="943.6" font-size="16.5" text-anchor="end" font-weight="normal" fill="#000" >5</text>
<line x1="73.40" y1="962.21" x2="77.60" y2="962.21" stroke="#000" stroke-width="1.6"/>
<line x1="69.90" y1="986.75" x2="77.60" y2="986.75" stroke="#000" stroke-width="1.6"/>
<text x="65.0" y="992.6" font-size="16.5" text-anchor="end" font-weight="normal" fill="#000" >6</text>
<line x1="73.40" y1="1011.29" x2="77.60" y2="1011.29" stroke="#000" stroke-width="1.6"/>
<line x1="69.90" y1="1035.83" x2="77.60" y2="1035.83" stroke="#000" stroke-width="1.6"/>
<text x="65.0" y="1041.7" font-size="16.5" text-anchor="end" font-weight="normal" fill="#000" >7</text>
<line x1="73.40" y1="1060.38" x2="77.60" y2="1060.38" stroke="#000" stroke-width="1.6"/>
<line x1="69.90" y1="1084.92" x2="77.60" y2="1084.92" stroke="#000" stroke-width="1.6"/>
<text x="65.0" y="1090.8" font-size="16.5" text-anchor="end" font-weight="normal" fill="#000" >8</text>
<line x1="73.40" y1="1109.46" x2="77.60" y2="1109.46" stroke="#000" stroke-width="1.6"/>
<line x1="69.90" y1="1134.00" x2="77.60" y2="1134.00" stroke="#000" stroke-width="1.6"/>
<text x="65.0" y="1139.9" font-size="16.5" text-anchor="end" font-weight="normal" fill="#000" >9</text>
<line x1="592.00" y1="512.40" x2="599.00" y2="512.40" stroke="#000" stroke-width="1.6"/>
<text x="605.0" y="518.3" font-size="16.5" text-anchor="start" font-weight="normal" fill="#000" >0</text>
<line x1="592.00" y1="475.60" x2="596.00" y2="475.60" stroke="#000" stroke-width="1.6"/>
<line x1="592.00" y1="438.80" x2="599.00" y2="438.80" stroke="#000" stroke-width="1.6"/>
<text x="605.0" y="444.7" font-size="16.5" text-anchor="start" font-weight="normal" fill="#000" >1x10<tspan font-size="11" dy="-7">4</tspan></text>
<line x1="592.00" y1="402.00" x2="596.00" y2="402.00" stroke="#000" stroke-width="1.6"/>
<line x1="592.00" y1="365.20" x2="599.00" y2="365.20" stroke="#000" stroke-width="1.6"/>
<text x="605.0" y="371.1" font-size="16.5" text-anchor="start" font-weight="normal" fill="#000" >2x10<tspan font-size="11" dy="-7">4</tspan></text>
<line x1="592.00" y1="328.40" x2="596.00" y2="328.40" stroke="#000" stroke-width="1.6"/>
<line x1="592.00" y1="291.60" x2="599.00" y2="291.60" stroke="#000" stroke-width="1.6"/>
<text x="605.0" y="297.5" font-size="16.5" text-anchor="start" font-weight="normal" fill="#000" >3x10<tspan font-size="11" dy="-7">4</tspan></text>
<line x1="592.00" y1="254.80" x2="596.00" y2="254.80" stroke="#000" stroke-width="1.6"/>
<line x1="592.00" y1="218.00" x2="599.00" y2="218.00" stroke="#000" stroke-width="1.6"/>
<text x="605.0" y="223.9" font-size="16.5" text-anchor="start" font-weight="normal" fill="#000" >4x10<tspan font-size="11" dy="-7">4</tspan></text>
<line x1="585.00" y1="463.33" x2="592.00" y2="463.33" stroke="#000" stroke-width="1.6"/>
<text x="581.5" y="469.2" font-size="16.5" text-anchor="end" font-weight="normal" fill="#000" >30</text>
<line x1="585.00" y1="414.27" x2="592.00" y2="414.27" stroke="#000" stroke-width="1.6"/>
<text x="581.5" y="420.2" font-size="16.5" text-anchor="end" font-weight="normal" fill="#000" >40</text>
<line x1="585.00" y1="365.20" x2="592.00" y2="365.20" stroke="#000" stroke-width="1.6"/>
<text x="581.5" y="371.1" font-size="16.5" text-anchor="end" font-weight="normal" fill="#000" >50</text>
<line x1="585.00" y1="316.13" x2="592.00" y2="316.13" stroke="#000" stroke-width="1.6"/>
<text x="581.5" y="322.0" font-size="16.5" text-anchor="end" font-weight="normal" fill="#000" >60</text>
<line x1="585.00" y1="267.07" x2="592.00" y2="267.07" stroke="#000" stroke-width="1.6"/>
<text x="581.5" y="273.0" font-size="16.5" text-anchor="end" font-weight="normal" fill="#000" >70</text>
<text x="96.0" y="251.7" font-size="19" text-anchor="start" font-weight="bold" fill="#000" >(b)</text>
<text x="96.0" y="562.9" font-size="19" text-anchor="start" font-weight="bold" fill="#000" >(c)</text>
<text x="96.0" y="873.7" font-size="19" text-anchor="start" font-weight="bold" fill="#000" >(d)</text>
<path d="M100.8 309.4L112.1 309.4L107.3 441.3L105.9 441.3Z" fill="#000"/>
<text x="93" y="302.6" font-size="16">+O<tspan font-size="10" dy="3.3">2</tspan></text>
<text x="95" y="457.9" font-size="16">-O<tspan font-size="10" dy="3.3">2</tspan></text>
<path d="M100.8 630.8L112.1 630.8L107.3 762.6L105.9 762.6Z" fill="#000"/>
<text x="93" y="624.7" font-size="16">+O<tspan font-size="10" dy="3.3">2</tspan></text>
<text x="95" y="780.0" font-size="16">-O<tspan font-size="10" dy="3.3">2</tspan></text>
<path d="M100.8 952.7L112.1 952.7L107.3 1084.6L105.9 1084.6Z" fill="#000"/>
<text x="93" y="946.3" font-size="16">+O<tspan font-size="10" dy="3.3">2</tspan></text>
<text x="95" y="1101.7" font-size="16">-O<tspan font-size="10" dy="3.3">2</tspan></text>
<text transform="translate(15.3,365.9) rotate(-90)" font-size="18.9" text-anchor="middle" >Mn/Ca (µmol mol<tspan font-size="11" dy="-7">-1</tspan><tspan dy="7">)</tspan></text>
<text transform="translate(29.8,365.0) rotate(-90)" font-size="12.6" text-anchor="middle" ><tspan font-weight="bold" fill="#ff6600">ODP 714</tspan> (this study)</text>
<text transform="translate(20.3,675.0) rotate(-90)" font-size="18.6" text-anchor="middle" >I/Ca (µmol mol<tspan font-size="11" dy="-7">-1</tspan><tspan dy="7">)</tspan></text>
<text transform="translate(35.2,676.0) rotate(-90)" font-size="12.6" text-anchor="middle" ><tspan font-weight="bold" fill="#ff6600">ODP 714</tspan> <tspan font-weight="bold" fill="#990000">ODP 730</tspan> (this study)</text>
<text transform="translate(34.0,989.6) rotate(-90)" font-size="19.1" text-anchor="middle" >FB-δ<tspan font-size="11" dy="-7">15</tspan><tspan dy="7">N (‰ </tspan><tspan font-style="italic">vs.</tspan> air)</text>
<text transform="translate(48.6,987.0) rotate(-90)" font-size="12.6" text-anchor="middle" ><tspan font-weight="bold" fill="#ff6600">ODP 714</tspan> <tspan font-weight="bold" fill="#990000">ODP 730</tspan> (this study)</text>
<text transform="translate(540.3,365.0) rotate(-90)" font-size="18.7" text-anchor="middle" >Mn/Ca (µmol mol<tspan font-size="11" dy="-7">-1</tspan><tspan dy="7">)</tspan></text>
<text transform="translate(558.5,365.3) rotate(-90)" font-size="14.3" text-anchor="middle" ><tspan font-weight="bold" fill="#c8963c">U1466/68, U1471</tspan> (Betzler et al., 2016)</text>
<text transform="translate(671.5,363.5) rotate(90)" font-size="18.8" text-anchor="middle" >Mn/Ca (µmol mol<tspan font-size="11" dy="-7">-1</tspan><tspan dy="7">)</tspan></text>
<text transform="translate(654.5,363.9) rotate(90)" font-size="11.2" text-anchor="middle" ><tspan font-weight="bold" fill="#660066" font-size="12.8">ODP 722</tspan> (Bialik et al., 2020)</text>
<text transform="translate(650.3,112.6) rotate(90)" font-size="19.5" text-anchor="middle" >δ<tspan font-size="11.5" dy="-8.3">18</tspan><tspan dy="8.3">O (‰)</tspan></text>
<text transform="translate(636.5,112.3) rotate(90)" font-size="11.3" text-anchor="middle" >Westerhold et al., 2020</text>
<rect x="354.9" y="222.1" width="35.1" height="17.1" fill="#660066"/>
<line x1="354.70" y1="218.50" x2="354.70" y2="243.00" stroke="#660066" stroke-width="2.4"/>
<line x1="340.50" y1="230.70" x2="348.70" y2="230.70" stroke="#660066" stroke-width="1.8"/>
<path d="M334.5 230.7L344.5 226.0L340.7 230.7L344.5 235.4Z" fill="#660066"/>
<circle cx="354.7" cy="230.7" r="6.1" fill="#fff" stroke="#660066" stroke-width="1.35"/>
<text x="354.7" y="235.8" font-size="15" text-anchor="middle" fill="#fff" stroke="#660066" stroke-width="1.3" paint-order="stroke" font-family="&quot;Liberation Serif&quot;, serif">1</text>
<text x="389.0" y="236.0" font-size="14.5" text-anchor="end" font-weight="bold" fill="#fff" >722</text>
<rect x="316.0" y="245.4" width="34.8" height="16.1" fill="#ff6600"/>
<line x1="316.00" y1="218.50" x2="316.00" y2="264.00" stroke="#ff6600" stroke-width="2.4"/>
<line x1="301.30" y1="253.80" x2="310.80" y2="253.80" stroke="#fa6e50" stroke-width="1.8"/>
<path d="M295.3 253.8L305.3 249.1L301.5 253.8L305.3 258.5Z" fill="#fa6e50"/>
<circle cx="316.8" cy="253.8" r="6.1" fill="#fff" stroke="#fa6e50" stroke-width="1.35"/>
<text x="316.8" y="258.9" font-size="15" text-anchor="middle" fill="#fff" stroke="#fa6e50" stroke-width="1.3" paint-order="stroke" font-family="&quot;Liberation Serif&quot;, serif">2</text>
<text x="349.8" y="259.1" font-size="14.5" text-anchor="end" font-weight="bold" fill="#fff" >714</text>
<rect x="295.0" y="266.0" width="75.2" height="33.8" fill="#cc9933"/>
<line x1="295.50" y1="218.50" x2="295.50" y2="303.00" stroke="#cc9933" stroke-width="2.4"/>
<line x1="280.70" y1="283.00" x2="288.70" y2="283.00" stroke="#cc9933" stroke-width="1.8"/>
<path d="M274.7 283.0L284.7 278.3L280.9 283.0L284.7 287.7Z" fill="#cc9933"/>
<circle cx="294.7" cy="283.0" r="6.1" fill="#fff" stroke="#cc9933" stroke-width="1.35"/>
<text x="294.7" y="288.1" font-size="15" text-anchor="middle" fill="#fff" stroke="#cc9933" stroke-width="1.3" paint-order="stroke" font-family="&quot;Liberation Serif&quot;, serif">3</text>
<text x="304.5" y="279.9" font-size="15" text-anchor="start" font-weight="bold" fill="#fff" >U1466/68</text>
<text x="304.5" y="296.6" font-size="15" text-anchor="start" font-weight="bold" fill="#fff" >U1471</text>
<rect x="347.4" y="533.5" width="35.5" height="16.2" fill="#990000"/>
<line x1="347.40" y1="529.00" x2="347.40" y2="553.50" stroke="#990000" stroke-width="2.4"/>
<line x1="333.90" y1="541.70" x2="341.40" y2="541.70" stroke="#990000" stroke-width="1.8"/>
<path d="M327.9 541.7L337.9 537.0L334.1 541.7L337.9 546.4Z" fill="#990000"/>
<circle cx="347.4" cy="541.7" r="6.1" fill="#fff" stroke="#990000" stroke-width="1.35"/>
<text x="347.4" y="546.8" font-size="15" text-anchor="middle" fill="#fff" stroke="#990000" stroke-width="1.3" paint-order="stroke" font-family="&quot;Liberation Serif&quot;, serif">1</text>
<text x="381.9" y="547.0" font-size="14.5" text-anchor="end" font-weight="bold" fill="#fff" >730</text>
<rect x="303.6" y="556.3" width="34.2" height="15.2" fill="#ff6600"/>
<line x1="303.60" y1="529.00" x2="303.60" y2="574.30" stroke="#ff6600" stroke-width="2.4"/>
<line x1="288.30" y1="564.50" x2="297.60" y2="564.50" stroke="#fa6e50" stroke-width="1.8"/>
<path d="M282.3 564.5L292.3 559.8L288.5 564.5L292.3 569.2Z" fill="#fa6e50"/>
<circle cx="303.6" cy="564.5" r="6.1" fill="#fff" stroke="#fa6e50" stroke-width="1.35"/>
<text x="303.6" y="569.6" font-size="15" text-anchor="middle" fill="#fff" stroke="#fa6e50" stroke-width="1.3" paint-order="stroke" font-family="&quot;Liberation Serif&quot;, serif">2</text>
<text x="336.8" y="569.8" font-size="14.5" text-anchor="end" font-weight="bold" fill="#fff" >714</text>
<rect x="335.2" y="845.5" width="35.5" height="15.8" fill="#990000"/>
<line x1="335.20" y1="840.00" x2="335.20" y2="865.70" stroke="#990000" stroke-width="2.4"/>
<line x1="321.50" y1="853.60" x2="329.20" y2="853.60" stroke="#990000" stroke-width="1.8"/>
<path d="M315.5 853.6L325.5 848.9L321.7 853.6L325.5 858.3Z" fill="#990000"/>
<circle cx="335.2" cy="853.6" r="6.1" fill="#fff" stroke="#990000" stroke-width="1.35"/>
<text x="335.2" y="858.7" font-size="15" text-anchor="middle" fill="#fff" stroke="#990000" stroke-width="1.3" paint-order="stroke" font-family="&quot;Liberation Serif&quot;, serif">1</text>
<text x="369.7" y="858.9" font-size="14.5" text-anchor="end" font-weight="bold" fill="#fff" >730</text>
<rect x="270.0" y="867.8" width="34.6" height="16.5" fill="#990000"/>
<line x1="270.00" y1="840.00" x2="270.00" y2="886.50" stroke="#990000" stroke-width="2.4"/>
<line x1="254.80" y1="876.20" x2="264.00" y2="876.20" stroke="#990000" stroke-width="1.8"/>
<path d="M248.8 876.2L258.8 871.5L255.0 876.2L258.8 880.9Z" fill="#990000"/>
<circle cx="270.0" cy="876.2" r="6.1" fill="#fff" stroke="#990000" stroke-width="1.35"/>
<text x="270.0" y="881.3" font-size="15" text-anchor="middle" fill="#fff" stroke="#990000" stroke-width="1.3" paint-order="stroke" font-family="&quot;Liberation Serif&quot;, serif">2</text>
<text x="303.6" y="881.5" font-size="14.5" text-anchor="end" font-weight="bold" fill="#fff" >730</text>
</svg></body></html>
